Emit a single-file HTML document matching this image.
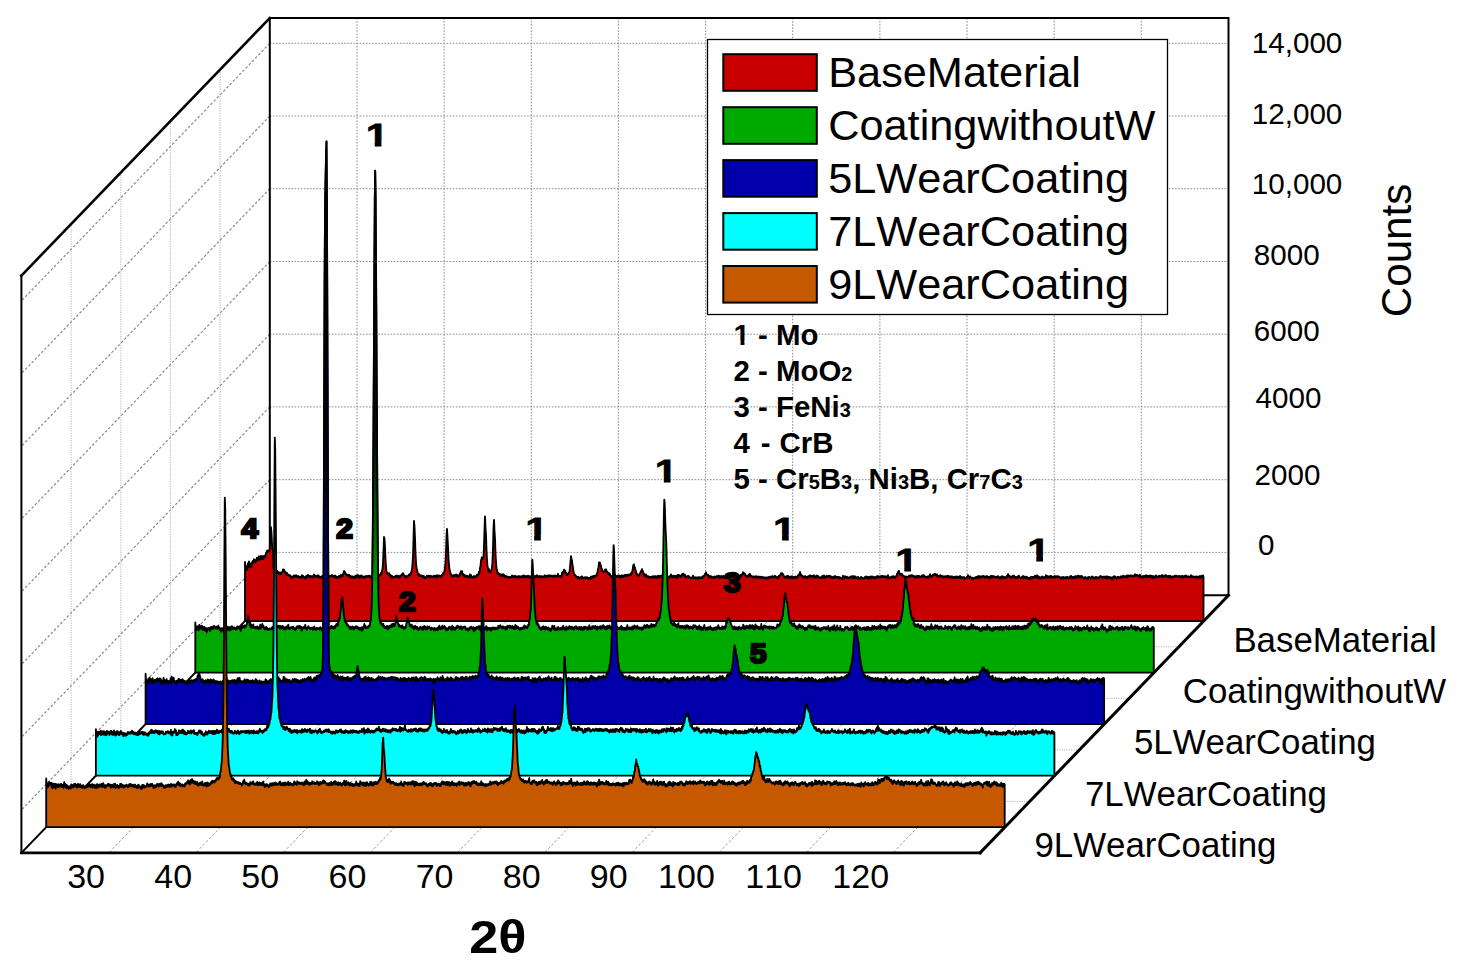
<!DOCTYPE html>
<html lang="en"><head><meta charset="utf-8"><title>XRD 3D waterfall</title>
<style>html,body{margin:0;padding:0;background:#fff;width:1459px;height:970px;overflow:hidden}svg{display:block}</style></head>
<body>
<svg width="1459" height="970" viewBox="0 0 1459 970" font-family="'Liberation Sans', sans-serif" style="font-kerning:none">
<rect width="1459" height="970" fill="#fff"/>
<g fill="none" stroke="#8c8c8c" stroke-width="1" stroke-dasharray="1.6 1.5">
<path d="M269.8 552.4H1228.5"/>
<path d="M269.8 479.7H1228.5"/>
<path d="M269.8 406.9H1228.5"/>
<path d="M269.8 334.2H1228.5"/>
<path d="M269.8 261.5H1228.5"/>
<path d="M269.8 188.7H1228.5"/>
<path d="M269.8 116.0H1228.5"/>
<path d="M269.8 43.3H1228.5"/>
<path d="M357.0 18.0V595.3"/>
<path d="M444.1 18.0V595.3"/>
<path d="M531.3 18.0V595.3"/>
<path d="M618.4 18.0V595.3"/>
<path d="M705.6 18.0V595.3"/>
<path d="M792.7 18.0V595.3"/>
<path d="M879.9 18.0V595.3"/>
<path d="M967.0 18.0V595.3"/>
<path d="M1054.2 18.0V595.3"/>
<path d="M1141.3 18.0V595.3"/>
</g>
<g fill="none" stroke="#868686" stroke-width="1.15" stroke-dasharray="2.6 2">
<path d="M269.8 552.4l-248.4 257.6"/>
<path d="M269.8 479.7l-248.4 257.6"/>
<path d="M269.8 406.9l-248.4 257.6"/>
<path d="M269.8 334.2l-248.4 257.6"/>
<path d="M269.8 261.5l-248.4 257.6"/>
<path d="M269.8 188.7l-248.4 257.6"/>
<path d="M269.8 116.0l-248.4 257.6"/>
<path d="M269.8 43.3l-248.4 257.6"/>
</g>
<g fill="none" stroke="#9c9c9c" stroke-width="1" stroke-dasharray="2.6 2">
<path d="M357.0 595.3l-248.4 257.6"/>
<path d="M444.1 595.3l-248.4 257.6"/>
<path d="M531.3 595.3l-248.4 257.6"/>
<path d="M618.4 595.3l-248.4 257.6"/>
<path d="M705.6 595.3l-248.4 257.6"/>
<path d="M792.7 595.3l-248.4 257.6"/>
<path d="M879.9 595.3l-248.4 257.6"/>
<path d="M967.0 595.3l-248.4 257.6"/>
<path d="M1054.2 595.3l-248.4 257.6"/>
<path d="M1141.3 595.3l-248.4 257.6"/>
</g>
<g fill="none" stroke="#b4b4b4" stroke-width="1" stroke-dasharray="1.2 1.2">
<path d="M220.1 69.5V646.8"/>
<path d="M220.1 646.8H1178.8"/>
<path d="M170.4 121.0V698.3"/>
<path d="M170.4 698.3H1129.1"/>
<path d="M120.8 172.6V749.9"/>
<path d="M120.8 749.9H1079.5"/>
<path d="M71.1 224.1V801.4"/>
<path d="M71.1 801.4H1029.8"/>
</g>
<g fill="none" stroke="#000" stroke-linejoin="miter" stroke-linecap="square">
<path stroke-width="2" d="M269.8 595.3V18.0H1228.5V595.3H269.8"/>
<path stroke-width="2.6" d="M269.8 18.0L21.4 275.6"/>
<path stroke-width="2" d="M21.4 275.6V852.9"/>
<path stroke-width="2" d="M21.4 852.9L269.8 595.3"/>
<path stroke-width="2.8" d="M21.4 852.9H980.1"/>
<path stroke-width="3" d="M980.1 852.9L1228.5 595.3"/>
</g>
<path fill="#c80000" stroke="#000" stroke-width="1.85" stroke-linejoin="round" d="M245 561.9l.5 5.9 .5-2 .5 4.4 .5-2.9 .5 1.8 .5-5.9 .5 1.3 .5-3.1 .5 5.5 .5-3.7 .5 4 .5-2 .5 1.5 .5-4.4 .5 .9 .5-2.5 .5 2 .5-3.5 .5 2.5 .5-1.8 .5 2.4 .5-1.4 .5-1 .5-2.2 .5 2.5 .5-2.4 .5 1.8 .5-3.3 .5 3.5 .5-3.2 .5 .9 .5-1.7 .5 3.4 .5-2.7 .5 2.7 .5-3.1 .5 2.8 .5-2.9 .5-.1 .5-.4 .5 1.2 .5-3.9 .5 .2 .5-2.3 .5 1.5 .5-1.8 .5 .9 .5-.6 .5 .9 .5-7.3 .5-6.6 .5-10.5 .5 6.2 .5 9.9 .5 6.2 .5 .6 .5 18 .5-.5 .5 3.5 .5-1.2 .5 2.5 .5-2 .5 2 .5-1.7 .5 1.2 .5 0 .5 1.8 .5-1.4 .5 2 .5-1.4 .5 1.5 .5-2 .5 1 .5-1.5 .5 .1 .5-2.5 .5 1.1 .5-1.1 .5 2.5 .5-.6 .5 1.6 .5-.4 .5 2.1 .5-1.8 .5 2.4 .5-1 .5 1.4 .5-.7 .5 .7 .5-.5 .5 1.3 .5-.3 .5 2.1 .5-1.2 .5 .5 .5-1.4 .5 .9 .5-1.6 .5 1.3 .5-.9 .5 .7 .5-1.5 .5 1.6 .5-.5 .5 1 .5-1.4 .5 1.8 .5-1 .5 .7 .5-.5 .5 .8 .5-.9 .5 .8 .5-2.3 .5 1.9 .5-1.2 .5 1.6 .5-.7 .5 1.5 .5-.5 .5 .7 .5-2.3 .5 1.4 .5-1.8 .5 .7 .5-1.6 .5 1.2 .5-.3 .5 1.4 .5-1.1 .5 .8 .5-.9 .5 1.1 .5-.6 .5 1 .5-1.7 .5 0 .5-1.3 .5 1.1 .5 0 .5 1.3 .5-.8 .5 .8 .5-1.2 .5 1.2 .5-1.7 .5 2.1 .5-1.1 .5 1.4 .5-.9 .5 .3 .5-.2 .5 .9 .5-1.6 .5 .4 .5-.4 .5 1.3 .5-2 .5 2 .5-.9 .5 .5 .5-.4 .5 .3 .5-.5 .5 1.7 .5-1.2 .5 .4 .5-1.3 .5 .5 .5-.8 .5 .8 .5-.7 .5-.1 .5-.7 .5 1.5 .5-.8 .5 1 .5-.6 .5 1.3 .5-1.9 .5 1.8 .5-.9 .5 1.5 .5-1 .5 .6 .5-.7 .5 .9 .5-1.8 .5 .8 .5-.7 .5 .7 .5-1.9 .5 1.6 .5-.8 .5 .7 .5-2.2 .5-.5 .5-2.7 .5 1.7 .5-.6 .5 1.7 .5 .1 .5 1.4 .5-.4 .5 .9 .5-.9 .5 1.1 .5-1 .5 1.3 .5-.6 .5 1.7 .5-1 .5 1.3 .5-1.2 .5 .4 .5-.4 .5 1.6 .5-.8 .5 .9 .5-2 .5 1.6 .5-2 .5 .9 .5-1.5 .5 1.9 .5-1.8 .5 1.7 .5-1.2 .5 2.3 .5-1.5 .5 1 .5-2.1 .5 .9 .5-.5 .5 1.2 .5-.4 .5 1.6 .5-1.1 .5 .5 .5-1.4 .5 1 .5-1.1 .5 .6 .5-.8 .5 .6 .5-.2 .5 .1 .5-.8 .5 1.3 .5-.8 .5 .9 .5-1.1 .5 1.2 .5-.7 .5 .8 .5-1.4 .5 .9 .5-1.3 .5 1.4 .5-2.2 .5 1.4 .5-1.1 .5 1.2 .5-1.3 .5 1.4 .5-1.5 .5 1.8 .5-.8 .5 .3 .5-1.4 .5 .2 .5-2 .5 .6 .5-2.7 .5-1.4 .5-6.8 .5-10.6 .5-14.9 .5 1.7 .5 8.1 .5 13 .5 7.2 .5 4.9 .5 .3 .5 1.7 .5-.3 .5 1.1 .5-1.6 .5 2.4 .5-1 .5 1.4 .5-.5 .5 2.2 .5-1.6 .5 1.2 .5-.5 .5 .9 .5-1 .5 .3 .5-.4 .5 .9 .5-1.8 .5 .7 .5-.7 .5 1.2 .5-.9 .5 1.2 .5-1.3 .5 1.9 .5-1.5 .5 .3 .5-1.3 .5 0 .5-1.2 .5 .5 .5-1.3 .5 1.2 .5 .5 .5 1.3 .5 .4 .5 1 .5-1.7 .5 1 .5-.8 .5 .4 .5-.7 .5 .4 .5-1.6 .5 .8 .5-1.5 .5 .6 .5-2.1 .5-.2 .5-3.6 .5-3.6 .5-9.2 .5-16.3 .5-18.6 .5 6 .5 11.2 .5 15.4 .5 9 .5 5.6 .5 1.6 .5 2.6 .5 .9 .5 1.6 .5-.7 .5 1.9 .5-.9 .5 1 .5-.8 .5 .5 .5-.1 .5 1.2 .5-1 .5 1.5 .5-1.2 .5 2.1 .5-1.2 .5 1.3 .5-1.3 .5 0 .5-1.5 .5 .6 .5-.5 .5 1 .5-.5 .5 1 .5-1.6 .5 1.4 .5-1.1 .5 .8 .5-.2 .5 .6 .5-1 .5 1 .5-1.3 .5 .8 .5-1 .5 1.6 .5-1 .5 1.3 .5-2.3 .5 1.1 .5-.5 .5 .7 .5-1.1 .5 .9 .5-.1 .5 .9 .5-1.5 .5 .9 .5-1.9 .5 .3 .5-1.6 .5 .7 .5-1.7 .5-.9 .5-4.3 .5-4.3 .5-10.7 .5-15.5 .5-7.7 .5 8.6 .5 9.2 .5 12.1 .5 6 .5 4.9 .5 1.2 .5 2.9 .5 .3 .5 1.6 .5-.2 .5 1.4 .5-1.5 .5 .7 .5-1.2 .5 1.2 .5-.9 .5 .4 .5-1.2 .5 1.9 .5-1.5 .5 1.8 .5-1.2 .5 1.2 .5-1.3 .5 .4 .5-2.4 .5 .5 .5-2.6 .5 .3 .5-.4 .5 3 .5-.3 .5 2 .5-1.1 .5 1.3 .5-.2 .5 1.1 .5-1.4 .5 1.1 .5-1 .5 1.4 .5-1 .5 1 .5-.6 .5 1.1 .5-3 .5 1.4 .5-.9 .5 2.5 .5-.5 .5 .9 .5-1.1 .5 .5 .5-1.3 .5 1.2 .5-.9 .5 .5 .5-.9 .5 1 .5-2.2 .5 .7 .5-1.2 .5 .5 .5-3 .5 .7 .5-4.4 .5-2.1 .5-5.2 .5-2 .5-1.4 .5 2 .5-1 .5-1.4 .5-10.4 .5-17 .5-13.1 .5 11.8 .5 7.1 .5 14.9 .5 9.8 .5 6.1 .5 2.2 .5 2.5 .5-1.6 .5 3 .5-1.4 .5 1.6 .5-1.9 .5-.3 .5-3.2 .5-5.3 .5-13.6 .5-19.9 .5-8.3 .5 11.5 .5 7.1 .5 15 .5 8.4 .5 6.7 .5 1.2 .5 3.5 .5-.6 .5 1.3 .5-.3 .5 1 .5-.6 .5 2 .5-1.4 .5 .6 .5-.7 .5 1.1 .5-1.6 .5 2.1 .5-1.4 .5 1.6 .5-.6 .5 1.5 .5-1.1 .5 1 .5-.9 .5 .8 .5-.2 .5 .9 .5-.7 .5 .4 .5-.6 .5 .5 .5-.6 .5 .4 .5-1.7 .5 .4 .5 .1 .5 1.5 .5-1.4 .5 .4 .5-.8 .5 1.5 .5-.4 .5 .7 .5-1.2 .5 .5 .5-.2 .5 1 .5-1.6 .5 1.5 .5-.6 .5 .5 .5-1.2 .5 1.2 .5-1.1 .5 1 .5-1.6 .5 1.3 .5-1.6 .5 2 .5-1.5 .5 1.5 .5-1 .5 .7 .5-1.1 .5 .7 .5-1 .5 1 .5-.4 .5 1.6 .5-1.6 .5 .4 .5-.3 .5 1.2 .5-1.3 .5 .7 .5-.9 .5 1.1 .5-.8 .5 .6 .5-1.1 .5 1.1 .5-.9 .5 .4 .5-1.4 .5 1.4 .5-.4 .5 1.4 .5-1.3 .5 1.1 .5-1.3 .5 .9 .5-.7 .5 .9 .5-.8 .5 1 .5-.9 .5 .7 .5-1 .5 1.2 .5-2 .5 1.7 .5-1.1 .5 .9 .5-1.2 .5 .4 .5-.4 .5 1.2 .5-1.5 .5 1.1 .5-.9 .5 .9 .5-.9 .5 1 .5-.7 .5 .8 .5-1 .5 1.5 .5-1.5 .5 .4 .5-.5 .5 1.1 .5-.7 .5 .8 .5-1 .5 .6 .5-2.5 .5 2.3 .5-.3 .5 .7 .5-.3 .5 .7 .5-1.4 .5 .9 .5-3.7 .5 1.5 .5-2.5 .5-.1 .5-1.9 .5 1.9 .5-1.1 .5 2.3 .5-.4 .5 2.4 .5-1.2 .5 1.3 .5-1.1 .5 .4 .5-1.9 .5-.5 .5-4.4 .5-5.9 .5-5.4 .5 3 .5 1.6 .5 4.3 .5 2.6 .5 4.4 .5 1.3 .5 1.5 .5-.1 .5 1 .5 .1 .5 1.5 .5-.3 .5 .9 .5-.9 .5 .4 .5-.2 .5 1.5 .5-.8 .5 .6 .5-1.6 .5 .9 .5-1.5 .5 1.7 .5 0 .5 .5 .5-1 .5 .5 .5-.9 .5 1.2 .5-.9 .5 .7 .5-.9 .5 1 .5-.5 .5 1.1 .5-.9 .5 .3 .5-.5 .5 1.2 .5-2.1 .5 1.1 .5-1.5 .5 1 .5-1.1 .5 1 .5-1.5 .5 1.1 .5-1.3 .5 .6 .5-.9 .5 0 .5-2.2 .5-.4 .5-3.5 .5-1.8 .5-4.9 .5-.1 .5 .3 .5 2.5 .5 .3 .5 3.8 .5-.5 .5 2.6 .5-.2 .5 1 .5-1.1 .5 .4 .5-1.7 .5 .3 .5-.9 .5 2 .5 .2 .5 1.4 .5-.3 .5 1.6 .5-1.1 .5 1.7 .5-.7 .5 2.1 .5-.3 .5 1.4 .5-.4 .5-.1 .5-1.1 .5 .6 .5-1.1 .5 1.4 .5-2.2 .5 2.4 .5-.7 .5 .8 .5-.7 .5 .7 .5-1 .5 .8 .5-1.2 .5 1.5 .5-1 .5 1.6 .5-1.6 .5 1.2 .5-1.9 .5 1.6 .5-.5 .5 .8 .5-1.7 .5 1.2 .5-1.8 .5 1.4 .5-1.2 .5 1 .5-1.2 .5 1.2 .5-1.2 .5 .5 .5-.7 .5 .4 .5-.7 .5 1.1 .5-2.2 .5 1.1 .5-2.4 .5-1.1 .5-4.5 .5-1.5 .5-.5 .5 3.7 .5-.5 .5 2.8 .5 .7 .5 3.2 .5-.4 .5 1.6 .5-.8 .5 1.2 .5-.9 .5 .1 .5-1.9 .5-.4 .5-1.6 .5-.6 .5-1.4 .5 1.8 .5 .6 .5 2.2 .5-.3 .5 2.7 .5-.4 .5 .7 .5-1.9 .5 2.1 .5-.6 .5 1.1 .5-1.1 .5 1.6 .5-.9 .5 .6 .5-.4 .5 1 .5-1.1 .5 .5 .5-.7 .5 .5 .5-.9 .5 1.5 .5-1.4 .5 1.4 .5-1.5 .5 1.3 .5-1.2 .5 1.6 .5-1.5 .5 .8 .5-1.5 .5 1.9 .5-1.5 .5 1.3 .5-1.5 .5 1.2 .5-1.4 .5 1 .5-1.2 .5 1.2 .5-1.8 .5 2.8 .5-.6 .5 1.4 .5-1 .5 .9 .5-1.6 .5 1.1 .5-1.4 .5 1.3 .5-1.1 .5 1.3 .5-1.4 .5 .8 .5-1.4 .5 .6 .5-2.1 .5 2.3 .5-1 .5 1.5 .5-1.5 .5 1.5 .5-1.4 .5 .9 .5-1 .5 1.7 .5-.7 .5 1.1 .5-2.5 .5 1.9 .5-2.3 .5 1.1 .5-1.1 .5 1.4 .5-.8 .5 1.4 .5-1 .5 .5 .5-2.4 .5 .4 .5-.9 .5 1.5 .5-.9 .5 2 .5-1.4 .5 2.6 .5-1 .5 .8 .5-.8 .5 .3 .5-.9 .5 1.2 .5-.8 .5 1.4 .5-.2 .5 .6 .5-.4 .5 .4 .5-.9 .5 .7 .5-2.1 .5 2.4 .5-.9 .5 .7 .5-.6 .5 1.4 .5-1.3 .5 1 .5-.9 .5 1 .5-1 .5 .7 .5-1.2 .5 1.2 .5-.8 .5 .7 .5-1 .5 .9 .5-.9 .5 1.1 .5-2 .5 .9 .5-1.6 .5 .1 .5-1.7 .5-.2 .5-1.4 .5 2.3 .5-.2 .5 .6 .5-.2 .5 1.8 .5-.8 .5 1.8 .5-1.5 .5 1.2 .5-1.2 .5 1.7 .5-.4 .5 .5 .5-1.1 .5 .9 .5-1 .5 1.1 .5-1.3 .5 1.1 .5-.9 .5 .6 .5-1.3 .5 .4 .5-.7 .5 .9 .5-1 .5 2.4 .5-.8 .5 .5 .5-1.7 .5 1.2 .5-1.1 .5 1.2 .5-.6 .5 .9 .5-1.8 .5 1.3 .5-.9 .5 .7 .5-2.5 .5 2.6 .5-1.3 .5 1.3 .5-.2 .5 .9 .5-2.4 .5 .7 .5-.7 .5 1.2 .5-.4 .5 1 .5-.5 .5 .5 .5-.4 .5 .2 .5-1 .5 1.4 .5-2.3 .5 1.9 .5-.3 .5 1 .5-.9 .5 .8 .5-.7 .5 .8 .5-1 .5 .8 .5-1.1 .5 0 .5-1.7 .5 1.2 .5-1.4 .5 0 .5-2.2 .5 1 .5-.3 .5 1.5 .5-.7 .5 1.5 .5 .3 .5 1.4 .5-.9 .5 .8 .5-1.3 .5 .8 .5-1.8 .5 1.6 .5-2.3 .5 2.8 .5-1.1 .5 1.4 .5-.6 .5 .9 .5-.7 .5 .8 .5-.8 .5 1.3 .5-1.4 .5 .4 .5-.6 .5 1.1 .5-.8 .5 1.2 .5-1.1 .5 1 .5-1.1 .5 1.1 .5-.6 .5 .8 .5-1.2 .5 .9 .5-.6 .5 1 .5-.7 .5 1 .5-.9 .5 1.2 .5-1.1 .5 1.1 .5-.9 .5 .4 .5-.6 .5 1.2 .5-1.5 .5 .9 .5-1.1 .5 .6 .5-.8 .5 1 .5-1.2 .5 .5 .5-.9 .5 1.3 .5-.9 .5 .8 .5-.8 .5 .5 .5-1.2 .5 1.4 .5-.6 .5 1 .5-.6 .5 1.5 .5-.8 .5 .1 .5-2 .5 .1 .5-1.1 .5-.1 .5-1.4 .5 .3 .5-.6 .5 1.6 .5-.5 .5 1.8 .5 0 .5 1.7 .5-1 .5 1.3 .5-1.2 .5 1.1 .5-1.8 .5 1.2 .5-1.4 .5 1.6 .5-.8 .5 1.6 .5-.9 .5 .5 .5-1.3 .5 1.4 .5-1.7 .5 1.8 .5-1 .5 1.7 .5-1.8 .5 .6 .5-.8 .5 1.1 .5-1.3 .5 1.3 .5-.3 .5 .3 .5-2.6 .5 .9 .5-1.7 .5-.1 .5-2.3 .5 2.5 .5-.1 .5 1.5 .5-.5 .5 1.3 .5-.2 .5 1 .5-1 .5 .4 .5-.8 .5 1.6 .5-.9 .5 1.1 .5-1.1 .5 1.3 .5-1.7 .5 .9 .5-1.4 .5 .6 .5-1.2 .5 1.1 .5-.5 .5 1.5 .5-1.5 .5 .6 .5-.9 .5 .7 .5-1 .5 2.4 .5-1.5 .5 1.1 .5-.6 .5 .7 .5-2 .5 1.1 .5-.5 .5 .9 .5 .3 .5 1.2 .5-1.1 .5 .8 .5-1 .5 1 .5-2 .5 1.7 .5-1.9 .5 1.7 .5-2.1 .5 2.3 .5-.8 .5 .7 .5-1.4 .5 .8 .5-1.3 .5 .9 .5-.4 .5 .5 .5-1.2 .5 .8 .5-.5 .5 1.3 .5-.8 .5 1.8 .5-.8 .5 .6 .5-1.3 .5 1.2 .5-1.1 .5 1.2 .5-2.1 .5 1.6 .5-.7 .5 .5 .5-.1 .5 .4 .5-.9 .5 1 .5-.7 .5 1.4 .5-1.1 .5 .7 .5-.3 .5 1 .5-.1 .5 .5 .5-3.3 .5 1.2 .5-.8 .5 1.7 .5-1.6 .5 1.6 .5-1.1 .5 1 .5-1.1 .5 .9 .5-.1 .5 .9 .5-1 .5 .7 .5-1.2 .5 .6 .5-1 .5 .6 .5-1 .5 2.1 .5-1.9 .5 1.6 .5-1.6 .5 1.5 .5-1.5 .5 1.6 .5-.7 .5 1 .5-1.1 .5 1.2 .5-1.5 .5 1.6 .5-.1 .5 .6 .5-1 .5 .2 .5-1.2 .5 1 .5-.4 .5 .8 .5-.3 .5 1.1 .5-.8 .5 0 .5-1.4 .5 .9 .5-1.4 .5 1.6 .5-.8 .5 1.1 .5-1.5 .5 1.3 .5-1.1 .5 2 .5-2.2 .5 1.6 .5-1.9 .5 1 .5-1.1 .5 1.4 .5-1 .5 1 .5-.8 .5 1.3 .5-1 .5 1.2 .5-1.7 .5 .4 .5-1 .5 1.2 .5-1.4 .5 1.3 .5-.4 .5 .7 .5-1.4 .5 1.1 .5-1.1 .5 .7 .5-1 .5 1.2 .5-1.1 .5 1 .5-.9 .5 1.1 .5-.6 .5 .6 .5-.9 .5 1.3 .5-.9 .5 .7 .5-2.2 .5 2.9 .5-.6 .5 1.1 .5-1.5 .5 .5 .5-.7 .5 .8 .5-1.3 .5 .9 .5-1 .5 1.2 .5-1.2 .5 1.5 .5-.9 .5 .7 .5-1.6 .5 .4 .5-2.6 .5-.2 .5-1.8 .5 .1 .5-1.1 .5 3 .5-.2 .5 1.1 .5-1.1 .5 .7 .5-.4 .5 1.8 .5-.5 .5 1.2 .5-.4 .5 1.3 .5-.7 .5 .8 .5-.9 .5 .6 .5-.2 .5 .7 .5-1.2 .5 .7 .5-1.4 .5 1.2 .5-1.2 .5 .9 .5-1.4 .5 .8 .5-.7 .5 .6 .5-.4 .5 1.3 .5-.5 .5 1.1 .5-1.3 .5 1.9 .5-1.1 .5 .3 .5-1.5 .5 .8 .5-.4 .5 1.4 .5-1.6 .5 1.1 .5-.8 .5 .9 .5-.6 .5 .4 .5-1.5 .5 1.2 .5-1.5 .5 1.5 .5-1.3 .5 .9 .5 .2 .5 1 .5-.5 .5 .8 .5-1.2 .5 1.2 .5-1.3 .5 1.5 .5-1.7 .5-.1 .5-2 .5 2.4 .5-.8 .5 1 .5-1.2 .5 .3 .5-1.1 .5 .6 .5-1.2 .5 .6 .5-.9 .5 1.4 .5-.6 .5 1.3 .5-1.5 .5 2.1 .5-.9 .5 1.4 .5-.6 .5 .1 .5-1.4 .5 1.1 .5-.6 .5 1 .5-.9 .5 1.4 .5-.8 .5 1.1 .5-.9 .5 .6 .5-1 .5 1.3 .5-1.1 .5 .6 .5-1 .5 .7 .5-.9 .5 1.8 .5-1.2 .5 1 .5-.8 .5 .5 .5-.8 .5 1.8 .5-1.6 .5 1.6 .5-1.2 .5 1.5 .5-1 .5 .6 .5-1.3 .5 1 .5-1 .5 1 .5-1.2 .5 1.3 .5-.8 .5 1.2 .5-1.3 .5 .7 .5-1.5 .5 2 .5-1.1 .5 1.2 .5-.8 .5 .9 .5-1 .5 1 .5-1.2 .5 1.6 .5-.7 .5 .8 .5-.8 .5 .1 .5-1.3 .5 .3 .5-1.9 .5 2.5 .5-.7 .5 .9 .5-1.5 .5 1.1 .5 .1 .5 .6 .5-.4 .5 1.7 .5-1.6 .5 1.1 .5-.7 .5 .1 .5-.9 .5 .6 .5-1 .5 1.2 .5-1.6 .5 1.2 .5-1.5 .5 1 .5-1.4 .5 2.3 .5-1.1 .5 .8 .5-1.7 .5 1.1 .5-.9 .5 .3 .5-.8 .5 .8 .5-.6 .5 1.7 .5-.7 .5 .3 .5-1.1 .5 1.1 .5-1.4 .5 1.6 .5-.9 .5 1.1 .5-.7 .5 1.2 .5-1.6 .5 .9 .5-1.8 .5 1.5 .5-1.4 .5 1.4 .5-1.2 .5 1.2 .5-1.2 .5 .9 .5-.2 .5 .6 .5-.7 .5 .7 .5-.5 .5 .3 .5-1.2 .5 1.4 .5-.4 .5 1.3 .5-.9 .5 1.4 .5-2.2 .5 1 .5-1.4 .5 1.5 .5-1.2 .5 1.4 .5-1 .5 .7 .5-.3 .5 1.2 .5-1.3 .5 .2 .5-1.7 .5 .6 .5-2.2 .5 1.9 .5-.6 .5 1.6 .5-.7 .5 1.4 .5-1.2 .5 1.2 .5-1.1 .5 .9 .5-1.9 .5 1 .5-1 .5 1.2 .5 0 .5 1.4 .5-1.1 .5 .9 .5-1 .5 .6 .5-1.5 .5 1.3 .5-1.7 .5 1.5 .5-.1 .5 .9 .5-.4 .5 .8 .5-1.4 .5 1.1 .5-2.1 .5 2 .5-1.3 .5 1.4 .5-1.5 .5 1.2 .5-1.2 .5 .9 .5-.5 .5 1.8 .5-1.1 .5 1.2 .5-.9 .5 .9 .5-1.3 .5 1.2 .5-2 .5 2 .5-1.9 .5 .3 .5-.2 .5 .9 .5-1.2 .5 .8 .5-1.7 .5 1.3 .5-1.5 .5 1.5 .5-1.7 .5 2.6 .5-1.9 .5 2.3 .5-1.7 .5 1 .5-.3 .5 1.1 .5-1.3 .5 1.1 .5-1.8 .5 1.3 .5-.5 .5 .5 .5-.9 .5 1.1 .5-1.1 .5 .7 .5-2.4 .5 2.1 .5-1.4 .5 1.9 .5-1.3 .5 .5 .5-.7 .5 1.1 .5-1.2 .5 1.4 .5-1.7 .5 1.2 .5-.5 .5 1.3 .5-.9 .5 .4 .5-1 .5 1 .5-1.4 .5 1.4 .5-1.3 .5 .9 .5-.7 .5 1 .5-1 .5 .8 .5-.7 .5 .9 .5-.1 .5 1.2 .5-1 .5 1.2 .5-1.3 .5 .8 .5-1.2 .5 1.6 .5-1 .5 .8 .5-1 .5 .9 .5-1.1 .5 .9 .5-1.2 .5 1 .5-.6 .5 1.2 .5-.8 .5 .8 .5-1.9 .5 .6 .5-1.2 .5 2 .5-1.1 .5 1.3 .5-1.1 .5 .9 .5-1.1 .5 1.4 .5-1.7 .5 .7 .5-1.2 .5 1.7 .5-1 .5 .4 .5-1.5 .5 1.1 .5-.7 .5 1.8 .5-1.5 .5 1.1 .5-1.5 .5 1.3 .5-1.1 .5 1.6 .5-.5 .5 .9 .5-.2 .5 1 .5-1.9 .5 .8 .5-.4 .5 1.2 .5-.5 .5 .4 .5-1.4 .5 1.2 .5-1.5 .5 1 .5-.4 .5 1.2 .5-1.1 .5 .3 .5-1.4 .5 1.2 .5-.6 .5 1.3 .5-.4 .5 .8 .5-1.6 .5 .9 .5-1.1 .5 1.5 .5-1.1 .5 .5 .5-.3 .5 1 .5-1.3 .5 .3 .5-1.2 .5 0 .5-.2 .5 .9 .5-.3 .5 1.4 .5-1.1 .5 .3 .5-.8 .5 1 .5-.9 .5 1.3 .5-1.1 .5 1.2 .5-1.7 .5 2.2 .5-1.7 .5 1.6 .5-1.4 .5 .5 .5-.6 .5 .9 .5-.5 .5 1.9 .5-1 .5 1 .5-2.2 .5 .4 .5-1.3 .5 .9 .5-.6 .5 1.6 .5-.4 .5 1 .5-1.5 .5 .6 .5-.9 .5 1.2 .5-1 .5 .5 .5-.1 .5 .7 .5-1.8 .5 1 .5-.8 .5 .6 .5-1.4 .5 1.5 .5-.8 .5 .3 .5-.6 .5 .9 .5-.9 .5 1.2 .5-1.8 .5 1.6 .5-1.6 .5 .5 .5-.4 .5 .9 .5-.6 .5 .1 .5-.7 .5 .6 .5-.3 .5 .8 .5-.9 .5 1 .5-.7 .5 .7 .5-2.3 .5 1.4 .5-.7 .5 1 .5-1 .5 .9 .5-.5 .5 1.4 .5-.8 .5 1 .5-2.1 .5 2 .5-.8 .5 1.4 .5-.5 .5 1.4 .5-2.3 .5 .9 .5-1 .5 .9 .5-.9 .5 1.3 .5-2.1 .5 2.2 .5-.6 .5 .2 .5-1.3 .5 1.1 .5-1 .5 1.5 .5-1.5 .5 1.3 .5-1.3 .5 1.9 .5-1.5 .5 2.3 .5-2.4 .5 2.2 .5-1.1 .5 .9 .5-1.7 .5 .6 .5-1.5 .5 1.3 .5 .2 .5 .4 .5-.9 .5 .3 .5-1.1 .5 1.6 .5-1.3 .5 .7 .5-.6 .5 .6 .5-1.6 .5 2.2 .5-1.2 .5 .8 .5-1.1 .5 1.2 .5-1.5 .5 .5 .5-.8 .5 1.4 .5-.5 .5 1.2 .5-.9 .5 .9 .5-1.5 .5 1.3 .5-1.1 .5 1.7 .5-1.2 .5 1.3 .5-.9 .5 1 .5-1.5 .5 1.1 .5-.9 .5 .4 .5-1.3 .5 .8 .5-.8 .5 .7 .5-.4 .5 1.2 .5-.6 .5 0 .5-.8 .5 .7 .5-.1 .5 1.2 .5-1.1 .5 .8 .5-1.4 .5 1.1 .5-.9 .5 1.6 .5-1 .5 .4 .5-1.3 .5 .5 .5-.7 .5 1.4 .5-.6 .5 1 .5-.9 .5 .7 .5-.7 .5 .7 .5-.4 .5 .4 .5-1.9 .5 1.8 .5-.8 .5 .8 .5-.7 .5 .8 .5-.3 .5 .9 .5-.9 .5 .8 .5-1.2 .5 .7 .5-.5 .5 1.1 .5-1 .5 .5 .5-.6 .5 1.2 .5-1.8 .5 2 .5-1.5 .5 .4 .5-1.2 .5 1.2 .5-1.5 .5 1.5V621.1H245z"/>
<path fill="#00a900" stroke="#000" stroke-width="1.85" stroke-linejoin="round" d="M195.3 622.5l.5 8.2 .5-3.9 .5 1.2 .5-1.7 .5 3.4 .5-3.2 .5 3.9 .5-5.5 .5 2.7 .5-1.4 .5 2.7 .5-3.2 .5 2.5 .5-2 .5 3.9 .5-2.9 .5 2.1 .5-2.3 .5 3.5 .5-2.7 .5 3.3 .5-3 .5 4.4 .5-4.2 .5 1.4 .5-1.6 .5 1.2 .5-1.4 .5 3.3 .5-3.8 .5 2.2 .5-2.7 .5 2.1 .5-1.6 .5 1.7 .5-2.8 .5 1.9 .5-2.3 .5 1.7 .5-.7 .5 2 .5-2.3 .5 2 .5-1.6 .5 1.6 .5-2.9 .5 2.5 .5-.6 .5 2.1 .5-1 .5 3.2 .5-3.6 .5 2.1 .5-2.1 .5 2.4 .5-2.5 .5 2 .5-2.2 .5 1 .5-2.8 .5 3 .5-2.6 .5 2.8 .5-2.8 .5 3.4 .5-2.8 .5 1.6 .5-1.7 .5 3.4 .5-3.4 .5 2 .5-2.8 .5 3.2 .5-3 .5 2.6 .5-1.6 .5 1.1 .5-1.2 .5 1.5 .5-.7 .5 1.5 .5-1.9 .5 1.5 .5-3 .5 1.8 .5-1.5 .5 .8 .5-.4 .5 2.3 .5-1.9 .5 3.6 .5-4.7 .5 1.2 .5-2.2 .5 2.5 .5-1.4 .5 .7 .5-1.6 .5 2.2 .5-2.2 .5 1.1 .5-1.7 .5-.5 .5-4.1 .5-2.1 .5-2.3 .5 6 .5-.5 .5 4.4 .5-2.9 .5 4.7 .5-2.9 .5 2.6 .5-1 .5 1.7 .5-3.6 .5 2.7 .5-.2 .5 1 .5-.7 .5 1.2 .5-1.6 .5 1.3 .5-1.6 .5 2.2 .5-1.5 .5 2 .5-1.9 .5 1 .5-3.7 .5 4.1 .5-2.8 .5 1.5 .5-3.5 .5 2.5 .5-.9 .5 2.5 .5-.5 .5 2 .5-2.1 .5 1.7 .5-2.2 .5 2.6 .5-1.5 .5 1.7 .5-.6 .5 1 .5-1.5 .5 .9 .5-1 .5 .7 .5-1.1 .5 1.2 .5-2.3 .5 2.1 .5-1.8 .5 2.1 .5-1.2 .5 1.6 .5-2.3 .5 2.1 .5-1.7 .5 .5 .5-2.3 .5 1.1 .5-1.5 .5 1.6 .5-1.4 .5 2.9 .5-2.9 .5 1.4 .5-.2 .5 1.5 .5-2.7 .5 1.7 .5-1 .5 2.8 .5-1.9 .5 2.1 .5-2.5 .5 2.3 .5-2.6 .5 1.7 .5-2.3 .5 1.8 .5-3.4 .5 4.2 .5-.7 .5 1.1 .5-1.7 .5 .6 .5-.9 .5 .3 .5-.5 .5 1.9 .5-2.3 .5 2.4 .5-.9 .5 2.1 .5-1.8 .5 1.3 .5-2.6 .5 .7 .5-1.7 .5 1.7 .5-1.6 .5 1.9 .5-2.2 .5 1.9 .5-1.5 .5 2.5 .5-1.9 .5 3.8 .5-2.5 .5 .6 .5-1.7 .5 1 .5-1.7 .5 1.4 .5-3 .5 4.2 .5-1.2 .5 2.1 .5-2.3 .5 .7 .5-2.1 .5 1.9 .5-.8 .5 1.3 .5-.7 .5 1.1 .5-1.3 .5 1.1 .5-1.1 .5 2 .5-2 .5 1.6 .5-2.8 .5 3.2 .5-1.2 .5 1.5 .5-2 .5 .7 .5-.8 .5 1.3 .5-.8 .5 .6 .5-.7 .5 1.2 .5-2.3 .5 2.1 .5-1.5 .5 2.9 .5-1.8 .5 .5 .5-1.9 .5 .7 .5-1.2 .5 1.5 .5-.7 .5 1.3 .5-3 .5 2.4 .5-.7 .5 1.2 .5-2 .5 2.3 .5-1.8 .5 1.3 .5-1.6 .5 .9 .5-2.3 .5 2.2 .5-1.6 .5 1.6 .5-1.1 .5 1.8 .5-2.3 .5 1.8 .5-2.4 .5 .7 .5-2.2 .5 1.8 .5-2.6 .5 1.8 .5-4.5 .5 .9 .5-3.7 .5 .5 .5-5 .5-3.7 .5-8.1 .5-2.8 .5-2 .5 6.2 .5 4.8 .5 7.2 .5 2.3 .5 4 .5 0 .5 1.6 .5-1.1 .5 3.5 .5-1.2 .5 1.7 .5-.7 .5 1.5 .5 .3 .5 2 .5-2.3 .5 2.7 .5-2 .5 1.2 .5-2.1 .5 2.1 .5-1.5 .5 2.5 .5-1.8 .5 .6 .5-1.9 .5 1 .5-1.2 .5 2 .5-1.6 .5 1.2 .5-.4 .5 2.2 .5-2.1 .5 1.7 .5-1.2 .5 1.5 .5-2.1 .5 3.6 .5-4 .5 2.7 .5-2.9 .5 .8 .5-3.7 .5 3.6 .5-1.9 .5 2.3 .5-1 .5 .9 .5-.9 .5 1.1 .5-2.1 .5 .6 .5-1.3 .5 .7 .5-4.6 .5-1 .5-7.1 .5-10 .5-27.8 .5-43.2 .5-71.9 .5-88.3 .5-94.9 .5-78.5 .4-28 .4 25.3 .7 112.5 .5 96.4 .5 83.9 .5 62.8 .5 36.6 .5 20.4 .5 7.8 .5 4 .5 1.7 .5 1.9 .5-.9 .5 1.1 .5-.2 .5 2 .5-2 .5 3.1 .5-1.2 .5 2.1 .5-.9 .5 .9 .5-1.7 .5 2.3 .5-2.6 .5 3.3 .5-2.5 .5 1.8 .5-2.8 .5 2.3 .5-2 .5 .6 .5-2.2 .5 2.6 .5-3 .5 2.1 .5-2.5 .5 2.7 .5-2 .5 1.4 .5-2.9 .5-.9 .5-5.7 .5 3.7 .5-.2 .5 3.6 .5 0 .5 2.9 .5-1.4 .5 1.6 .5-.4 .5 .9 .5-.8 .5 1.6 .5-2.5 .5 2.2 .5-.6 .5 1.6 .5-1.2 .5 1.5 .5-1.5 .5 0 .5-3.7 .5-.6 .5-5.2 .5 3.6 .5-3 .5 3.2 .5 1.2 .5 3 .5-1.1 .5 1.8 .5-1.9 .5 2.6 .5-1.9 .5 2.6 .5 0 .5 1.2 .5-2.6 .5 2.2 .5-2.7 .5 1.7 .5-.8 .5 2 .5-1.7 .5 2.7 .5-1.1 .5 1.2 .5-2.1 .5 .8 .5-2 .5 1.5 .5-.4 .5 1.5 .5-2.1 .5 2.8 .5-3.3 .5 2.4 .5-3.1 .5 1.4 .5-.6 .5 2.9 .5-1.7 .5 1.1 .5-2.7 .5 2.4 .5-2.1 .5 .4 .5-.5 .5 1.6 .5 .3 .5 1.6 .5-2.4 .5 1.7 .5-1.2 .5 .3 .5-.1 .5 2 .5-2.4 .5 1 .5-.6 .5 1.8 .5-1.8 .5 1.7 .5-1.8 .5 1.9 .5-3.1 .5 1.6 .5-3 .5 3 .5-1.3 .5 1.8 .5-2.1 .5 1.6 .5-3 .5 2.8 .5-1.5 .5 .7 .5-1.8 .5 1.6 .5-.5 .5 2.8 .5-1.4 .5 2 .5-1.8 .5 1.5 .5-2.3 .5 .6 .5-1.7 .5 1.8 .5-1.2 .5 2 .5-2.3 .5 2.9 .5-4.2 .5 3.5 .5-2.4 .5 2.7 .5-1.2 .5 1.8 .5-2.3 .5 .8 .5-1.8 .5 1.2 .5-2.4 .5 1.9 .5-1.3 .5 1.3 .5-.6 .5 2 .5-2.5 .5 2.3 .5-2.3 .5 3.1 .5-1.6 .5 .5 .5-1.5 .5 .2 .5-.6 .5 1.1 .5-.8 .5 3 .5-1.4 .5 .9 .5-.9 .5 1.8 .5-1.1 .5 1.4 .5-2.8 .5 .3 .5-.7 .5 1.3 .5-1.9 .5 1.8 .5-.9 .5 1.7 .5-2.1 .5 4.4 .5-3.6 .5 2.4 .5-2.8 .5 2.1 .5-2.5 .5 1.3 .5-1.5 .5 1.5 .5-2.1 .5 2.4 .5-2.7 .5 3.4 .5-3.1 .5 4.2 .5-4 .5 3.4 .5-1.9 .5 1.7 .5-3.5 .5 4.1 .5-2.2 .5 1.4 .5-1.8 .5 .7 .5-2.3 .5 4.3 .5-3 .5 2.1 .5-1.6 .5 .7 .5-.9 .5 1.9 .5-1.5 .5 2.7 .5-2.9 .5 1.9 .5-2.4 .5 1.3 .5-1.1 .5 1.4 .5-1.3 .5 1.5 .5-1.6 .5 1.6 .5-1.2 .5 1 .5-1.6 .5 1.1 .5-2.6 .5 2 .5-1.4 .5 .3 .5-1.7 .5 1.7 .5 0 .5 1.5 .5-1.7 .5 1.7 .5-1.9 .5 1.3 .5-.5 .5 1.3 .5-1.7 .5 2.8 .5-2.3 .5 1.6 .5-3.2 .5 1.3 .5-1.1 .5 1.4 .5-1.8 .5 2.1 .5-1.7 .5 1.2 .5 .1 .5 1.1 .5-2.5 .5 1.6 .5-.9 .5 2.5 .5-1 .5 .9 .5-4 .5 3.8 .5-2.8 .5 1.9 .5-1.5 .5 1.3 .5-.6 .5 1.9 .5-.5 .5 1.3 .5-1.9 .5 1.7 .5-1.3 .5 .7 .5-1.5 .5 1.2 .5-1.3 .5 1.2 .5-3.1 .5 1.8 .5-1.3 .5 1.5 .5-.9 .5 1.7 .5-1.9 .5 .7 .5-2.7 .5 .8 .5-4.6 .5-1.4 .5-6.6 .5-3 .5-12.8 .6-25.5 .4-11.7 .4 4.7 .6 12.7 .5 9.8 .5 11 .5 12.1 .5 5.1 .5 5 .5 1.4 .5 2.8 .5-1.6 .5 2.4 .5-1 .5 3.2 .5-.9 .5 2.5 .5-.3 .5 1.4 .5-1.9 .5 1.3 .5-2.3 .5 1.4 .5-2.1 .5 2.8 .5-.9 .5 1.5 .5-2.9 .5 1.9 .5-1.6 .5 2 .5-1.1 .5 1.6 .5-2.1 .5 1.3 .5-.5 .5 2.4 .5-1.7 .5 2 .5-2.8 .5 .6 .5-3 .5 2.2 .5-1.3 .5 2.7 .5-3.6 .5 4.3 .5-1.7 .5 1.5 .5-.8 .5 1.1 .5-2.7 .5 1.9 .5-2.2 .5 2 .5-.9 .5 1.3 .5-1.6 .5 1.3 .5-.4 .5 .9 .5-2.9 .5 2.2 .5-3.3 .5 3 .5-1 .5 2 .5-.6 .5 .9 .5-3.6 .5 3.1 .5-1.8 .5 1.1 .5-1.8 .5 1.6 .5-2.5 .5 2.5 .5-1.9 .5 2.1 .5-2.2 .5 1.8 .5-1.4 .5 1.8 .5-1.2 .5 2.1 .5-2.7 .5 1.4 .5-2 .5 2.1 .5-2.1 .5 2.3 .5-1.5 .5 2.1 .5-1.3 .5 1.2 .5-2.5 .5 1.6 .5-.8 .5 2.2 .5-3 .5 2.7 .5-1.3 .5 1.7 .5-2.6 .5 2.2 .5-2.8 .5 2.3 .5-2.2 .5 1.2 .5-.8 .5 1.5 .5-1.4 .5 2.4 .5-1.6 .5 1.2 .5-4 .5 3.6 .5-1.8 .5 2.2 .5-1.8 .5 1.5 .5-2.7 .5 1.7 .5-1.9 .5 1.5 .5-1.2 .5 1.9 .5-2.3 .5 2.2 .5-.7 .5 2.4 .5-3.5 .5 2.4 .5-1.4 .5 1.2 .5-1.9 .5 1 .5-1.6 .5 3 .5-2 .5 1.6 .5-2.9 .5 1.5 .5-2.2 .5 2.6 .5-1.4 .5 2.6 .5-2 .5 2.5 .5-2.8 .5 2.6 .5-3.4 .5 2.4 .5-2 .5 2 .5-2.7 .5 2.4 .5-1.6 .5 2.7 .5-2 .5 2 .5-1.5 .5 1.7 .5-1.7 .5 1.9 .5-2.9 .5 2.1 .5-1.8 .5 1.3 .5-1.7 .5 2.1 .5-1.9 .5 1.6 .5-.3 .5 1.1 .5-1 .5 1 .5-1.9 .5 2.3 .5-3.4 .5 3.4 .5-2.2 .5 2.1 .5-1.1 .5 1.5 .5-1.9 .5 1.4 .5-1.1 .5 2.1 .5-2.8 .5 1.6 .5-3.8 .5 3.6 .5-.4 .5 .9 .5-1.8 .5 1.4 .5-1.5 .5 2.2 .5-.7 .5 .1 .5-2.5 .5 3.3 .5-1.5 .5 .2 .5-3 .5 1.7 .5-.9 .5 2.1 .5-1.1 .5 1.2 .5-2.9 .5 2.9 .5-.9 .5 1.3 .5-1.6 .5 1.6 .5-1.2 .5 .8 .5-1.1 .5 2.6 .5-1.9 .5 1.3 .5-2.4 .5 1 .5-2.9 .5 2.5 .5-1.5 .5 2 .5-2.9 .5 1.1 .5-1.5 .5 2.4 .5-.4 .5 1.2 .5-2.3 .5 1.7 .5-1.8 .5 1.3 .5-3 .5 3.2 .5-2.1 .5 1 .5-1.3 .5 1.9 .5-1.6 .5 1.4 .5-1.2 .5 .3 .5-2.5 .5 .1 .5-2.5 .5-.3 .5-1.9 .5 2 .5-2.1 .5-.3 .5-5.1 .5-1.8 .5-5.9 .5-4.6 .5-12.9 .5-12.8 .5-26 .6-35.3 .4-14 .4 4.3 .6 18.6 .5 11.2 .5 9.9 .5 19.4 .5 17 .5 14.7 .5 7.4 .5 7.8 .5 1.4 .5 6.1 .5-.2 .5 5.7 .5-.8 .5 1.7 .5-.6 .5 2 .5-1.8 .5 1.7 .5-2.4 .5 3 .5-1.5 .5 1.8 .5-1.2 .5 2.9 .5-2.2 .5 .9 .5-3.1 .5 3.6 .5-.3 .5 1.3 .5-1.9 .5 1.8 .5-1.7 .5 1.3 .5-1.5 .5 1.8 .5-.5 .5 1.2 .5-2.6 .5 2.8 .5-1.5 .5 1.4 .5-3.3 .5 1.9 .5-1.6 .5 2.1 .5-1.6 .5 2.6 .5-1.6 .5 1.1 .5-1.7 .5 1.4 .5-1.1 .5 1.6 .5-.8 .5 1.3 .5-3.7 .5 2.4 .5-2.1 .5 1.4 .5-1.4 .5 1.7 .5-.5 .5 2.4 .5-2.3 .5 2.5 .5-2 .5 1.2 .5-2.9 .5 3.3 .5-1.9 .5 3 .5-2.8 .5 2.7 .5-.9 .5 1.1 .5-3 .5 .8 .5-2.9 .5 3.3 .5-.2 .5 2.3 .5-2.3 .5 1.2 .5-1.8 .5 2.1 .5-2.2 .5 2.1 .5-1.5 .5 .5 .5-2.1 .5 2.6 .5-1.3 .5 2.2 .5-1.4 .5 2 .5-2.2 .5 1.6 .5-2.1 .5 .8 .5-1.1 .5 2.3 .5-2.1 .5 1.6 .5-2.5 .5 .9 .5-2.5 .5 3.1 .5-.8 .5 1.9 .5-1.3 .5 1 .5-1.2 .5 1.1 .5-2.5 .5 2.7 .5-1.9 .5 .9 .5-1.7 .5 2.5 .5-2.6 .5 1.1 .5-6.3 .5 2 .5-3.6 .5 .5 .5-2.3 .5 1.9 .5-.5 .5 2.2 .5-.7 .5 3.8 .5-.1 .5 2.1 .5 0 .5 2.4 .5-1.6 .5 1.8 .5-2.5 .5 2.6 .5-1.6 .5 1.8 .5-2 .5 1.5 .5-1.3 .5 2.2 .5-2.4 .5 .9 .5-1.5 .5 1.8 .5-.6 .5 1.7 .5-1.9 .5 .8 .5-1.6 .5 .7 .5-3 .5 4.3 .5-2.7 .5 3 .5-2 .5 1.4 .5-2.8 .5 2.1 .5-1.8 .5 1.7 .5-1.5 .5 2.2 .5-3 .5 2.4 .5-2.8 .5 3.2 .5-2.1 .5 1.6 .5-2.6 .5 3.2 .5-2.4 .5 3.3 .5-2.6 .5 2.8 .5-5 .5 3.1 .5-2.3 .5 2.8 .5-1.6 .5 1.8 .5-1.7 .5 2.6 .5-1.5 .5 1.4 .5-2.5 .5 1.6 .5-4.2 .5 4.6 .5-.8 .5 2.2 .5-3.3 .5 1.2 .5-2.5 .5 1.5 .5-.9 .5 1.6 .5-1.2 .5 1.4 .5-1.1 .5 .5 .5-.5 .5 1.4 .5-1.6 .5 2.4 .5-2.2 .5 1.7 .5-1.7 .5 1.4 .5-1.1 .5 1.6 .5-1.7 .5 1.9 .5-1.2 .5 .7 .5-.7 .5 .7 .5-.7 .5 0 .5-3.2 .5 2 .5-1.6 .5 1.4 .5-1.7 .5 .5 .5-3.1 .5-.1 .5-2.8 .5 .9 .5-3.1 .5-1 .5-5.8 .5-3.3 .5-8.4 .5-2.7 .5-2.5 .5 4.6 .5 .7 .5 4.3 .5-.1 .5 5.4 .5 3.3 .5 4.8 .5 2.1 .5 4.3 .5-1.2 .5 1.9 .5-.9 .5 2.4 .5-.7 .5 2 .5-2.3 .5 2.2 .5-2.6 .5 3.3 .5-.9 .5 1.8 .5-1.2 .5 3 .5-1.6 .5 .7 .5-2.8 .5 1.9 .5-3.1 .5 2.6 .5-1.7 .5 2.2 .5-.2 .5 .7 .5-2 .5 1.4 .5-.6 .5 1.6 .5-.7 .5 2.6 .5-2.7 .5 1.8 .5-.9 .5 1.2 .5-2.6 .5 .5 .5-2.1 .5 1.5 .5-1.8 .5 2.6 .5-2.1 .5 1.9 .5-.9 .5 1.4 .5-1.8 .5 1.5 .5-1.4 .5 1.9 .5-1 .5 2.6 .5-4.2 .5 3.9 .5-2.3 .5 2.1 .5-1.6 .5 1.6 .5-2.3 .5 2.3 .5-1 .5 2.2 .5-1.1 .5 1 .5-2.7 .5 1.9 .5-1.1 .5 .2 .5-1.6 .5 1.4 .5-1.4 .5 .7 .5-.5 .5 1.6 .5-1.9 .5 2.2 .5-1.5 .5 1.2 .5-3 .5 3.7 .5-1.2 .5 2.5 .5-3.2 .5 1.9 .5-2.3 .5 1.1 .5-2 .5 3.2 .5-1.1 .5 1.1 .5-4.6 .5 3.7 .5-.6 .5 2.7 .5-3.8 .5 1.6 .5-3.3 .5 4.2 .5-1.6 .5 1.4 .5-.6 .5 1 .5-3.8 .5 2.6 .5 0 .5 1.9 .5-1.6 .5 1.5 .5-1.1 .5 1.6 .5-1.8 .5 0 .5-2.2 .5 1.2 .5-.6 .5 .5 .5-1.2 .5 2 .5-.8 .5 2 .5-1.3 .5 1.3 .5-1.9 .5 1.6 .5-2.6 .5 2 .5-2.1 .5 2.9 .5-2.8 .5 3 .5-2.9 .5 2.4 .5-3.8 .5 2.3 .5-2.4 .5 3.1 .5-2 .5 .9 .5-1.6 .5 1.8 .5 .1 .5 1.6 .5-2.3 .5 2.7 .5-1.3 .5 .9 .5-1.4 .5 .5 .5-.9 .5 1.4 .5-1.9 .5 2.6 .5-1.6 .5 1.8 .5-2.8 .5 2.8 .5-3.1 .5 1.2 .5-1.4 .5 2.9 .5-1.7 .5 1.1 .5-1.2 .5 2.4 .5-2.6 .5 2.1 .5-3.8 .5 2.9 .5-1.4 .5 1 .5-2.6 .5 3.2 .5-2.2 .5 1.5 .5-1.5 .5 2.2 .5-1.6 .5 1.1 .5-2.4 .5 2.3 .5-.4 .5 .8 .5-4.4 .5 4.4 .5-2.9 .5 1.6 .5-1.1 .5 1.9 .5-1.7 .5 1.2 .5-1.2 .5 2 .5-1.8 .5 2.6 .5-2.1 .5 3.2 .5-3.7 .5 1.2 .5-2.5 .5 1.6 .5-2.1 .5 2.3 .5-2.5 .5 3.5 .5-2.3 .5 1.3 .5-2.2 .5 2.5 .5-.9 .5 1 .5-2.7 .5 1.4 .5-1.3 .5 2.4 .5-2.3 .5 1.8 .5-3.6 .5 1.7 .5-2.9 .5 2 .5-1.8 .5 .7 .5-3 .5 1.5 .5-4.7 .5-.8 .5-3.7 .5-3.4 .5-6.6 .5-4.7 .5-8.7 .5-2.4 .5-7.9 .5 1.8 .5 1.5 .5 6 .5 1.7 .5 3.8 .5-.6 .5 7 .5 2.2 .5 6 .5 2 .5 4.4 .5 .5 .5 3.7 .5-1.3 .5 2.7 .5-2.3 .5 6.2 .5-1.1 .5 3.2 .5-1.7 .5 2 .5-1.4 .5 1.4 .5-2.2 .5 1.2 .5-1.3 .5 2.5 .5-1.1 .5 2.4 .5-2.4 .5 1.9 .5-2.9 .5 3.3 .5-1.1 .5 1.2 .5-1.3 .5 2.6 .5-1.3 .5 2.2 .5-1.4 .5 1.4 .5-3.8 .5 2.4 .5-2.2 .5 2 .5-2 .5 2.4 .5-2.3 .5 2.9 .5-2.5 .5 .6 .5-3.6 .5 4.7 .5-2.4 .5 2.3 .5-1.2 .5 1.2 .5-2.1 .5 1.7 .5-3.2 .5 2.5 .5-1 .5 1.1 .5-2.2 .5 2.7 .5-.9 .5 2.2 .5-2.7 .5 1.5 .5-1.5 .5 1.6 .5-2 .5 2.2 .5-.7 .5 .9 .5 0 .5 .3 .5-1.2 .5 .8 .5-3 .5 2.5 .5-1.2 .5 1.3 .5-.5 .5 1.6 .5-2.9 .5 1.3 .5-1.2 .5 1.2 .5-1.1 .5 1.9 .5-.9 .5 2.6 .5-2.8 .5 .3 .5-1.6 .5 .7 .5-1.7 .5 2.2 .5-2 .5 2.7 .5-.6 .5 1.8 .5-.9 .5 .5 .5-2.5 .5 1.2 .5-.8 .5 2.2 .5-1.3 .5 1.9 .5-4.5 .5 3.3 .5-2 .5 1.4 .5-1.7 .5 2.3 .5-1.2 .5 1.5 .5-2.6 .5 3.2 .5-1.5 .5 1.5 .5-1.8 .5 1.9 .5-2.3 .5 2.1 .5-2.5 .5 2.5 .5-2.1 .5 1.1 .5-4.1 .5 4.3 .5-1.8 .5 2 .5-3.7 .5 3.3 .5-1.3 .5 1.4 .5-1.7 .5 2.6 .5-2.1 .5 1.8 .5-1.9 .5 1.8 .5-.9 .5 1.3 .5-1.8 .5 3.5 .5-1.8 .5 2.3 .5-2.6 .5 1.7 .5-3.4 .5 2.4 .5-2.2 .5 2 .5-2.2 .5 2.4 .5-1.5 .5 1.2 .5-2.5 .5 3.2 .5-5.3 .5 3.4 .5-1.1 .5 1.7 .5-1.7 .5 3 .5-2.4 .5 2.2 .5-1.2 .5 2.3 .5-2.2 .5 2.6 .5-4 .5 1.8 .5-.8 .5 1 .5-2.3 .5 2.3 .5-1.5 .5 .8 .5-1.6 .5 2 .5-1.7 .5 2.5 .5-2 .5 2.3 .5-3.5 .5 2.3 .5-1.8 .5 2.2 .5-1.7 .5 3.1 .5-3.6 .5 2.1 .5-1.8 .5 .5 .5-.7 .5 .7 .5-1.7 .5 3.2 .5-2.1 .5 1.6 .5-1.4 .5 2.3 .5-3.7 .5 3.3 .5-1.6 .5 1.3 .5-1.3 .5 1.3 .5-2.7 .5 3 .5-3 .5 2.6 .5-2.4 .5 2.4 .5-3.3 .5 3.4 .5-2.5 .5 2.4 .5-2.5 .5 2.6 .5-3 .5 2.7 .5-2.2 .5 2.1 .5-1.5 .5 1.7 .5-1.8 .5 2.2 .5-2.7 .5 2.9 .5-2.7 .5 1.5 .5-2.6 .5 2.9 .5-2.7 .5 3 .5-3.2 .5 2.5 .5-2.7 .5 2.6 .5-4.4 .5 1.9 .5-1.8 .5 1.2 .5-2.2 .5 1.1 .5-3.4 .5 1.6 .5-2.9 .5 2 .5-2.9 .5 2.2 .5-1.6 .5 1.6 .5-1.9 .5 2.6 .5-1 .5 2 .5-1.8 .5 3.8 .5-3.4 .5 4.2 .5-.2 .5 2.3 .5-.4 .5 .3 .5-1.9 .5 1 .5-.6 .5 2.1 .5-.5 .5 1.8 .5-2.6 .5 .5 .5-1.4 .5 2.6 .5-.6 .5 2.4 .5-5.3 .5 4.4 .5-.4 .5 .3 .5-1.2 .5 1.1 .5-1.8 .5 1.6 .5-1 .5 2.1 .5-2.1 .5 1.3 .5-2.2 .5 3.2 .5-1.7 .5 1.8 .5-2.8 .5 2.4 .5-2.3 .5 2 .5-2.6 .5 3.4 .5-3.4 .5 1.8 .5-1.9 .5 1.7 .5-2.1 .5 2.1 .5-1.1 .5 2.3 .5-2.1 .5 2.2 .5-2.7 .5 3.2 .5-1 .5 1.1 .5-2 .5 .3 .5-.8 .5 1.5 .5-1.1 .5 1 .5-.7 .5 1.2 .5-2.3 .5 2.1 .5-1.9 .5 .6 .5-1.1 .5 2.3 .5-1.5 .5 3 .5-1.6 .5 1.4 .5-1 .5 .3 .5-3.6 .5 2.6 .5-1.6 .5 1.6 .5-1.3 .5 2.5 .5-3.5 .5 4.3 .5-2.4 .5 2 .5-2.6 .5 2.7 .5-1.5 .5 1.5 .5-2.4 .5 1 .5-1.4 .5 1 .5-1.6 .5 2.3 .5-1.1 .5 .9 .5-1.4 .5 1.4 .5-3.6 .5 3 .5-.2 .5 2.2 .5-2.6 .5 3.6 .5-3 .5 1 .5-3 .5 1.9 .5-.7 .5 2.1 .5-1.5 .5 2.5 .5-2.1 .5 .4 .5-1 .5 1.8 .5-2.6 .5 1.1 .5-.5 .5 2.5 .5-1.2 .5 1.4 .5-1.9 .5 .9 .5-1.4 .5 .9 .5-3.2 .5 2.8 .5-4.4 .5 4.5 .5-1.6 .5 2.5 .5-2 .5 1.4 .5-1.7 .5 1.8 .5-.1 .5 2.9 .5-2.7 .5 1.1 .5-.6 .5 .5 .5-4.1 .5 2.4 .5-2.7 .5 4.2 .5-3.1 .5 2 .5-1.8 .5 1.6 .5-1.1 .5 .8 .5 .2 .5 .8 .5-1.5 .5 .7 .5-1.6 .5 .6 .5-1 .5 2.8 .5-1.3 .5 2 .5-2.5 .5 1.6 .5-1.7 .5 1.6 .5-1.9 .5 1.7 .5-2 .5 3.3 .5-1.8 .5 1.5 .5-2.7 .5 1.7 .5-2.2 .5 1 .5-.2 .5 .6 .5-.9 .5 2 .5-2.1 .5 2.2 .5-.9 .5 .3 .5-1.6 .5 .4 .5-2.5 .5 2.1 .5-.2 .5 2 .5-.7 .5 .6 .5-2.6 .5 3.2 .5-2.9 .5 4 .5-1.9 .5 1.2 .5-3.1 .5 1.7 .5-1.1 .5 1 .5 .1 .5 2.1 .5-.6 .5 1.1 .5-2.7 .5 1.4 .5-1.6 .5 .9 .5-1.9 .5 2.1 .5-1 .5 1.2 .5-1.5 .5 2.3 .5-1.7 .5 2.2 .5-4.6 .5 2.7 .5-1.7 .5 2.5 .5-.9 .5 2 .5-1.8 .5 1.5 .5-2.3 .5 1.4 .5-2.6 .5 2.2 .5-2 .5 1V672.6H195.3z"/>
<linearGradient id="gG" gradientUnits="userSpaceOnUse" x1="0" y1="440" x2="0" y2="600"><stop offset="0" stop-color="#001000"/><stop offset="1" stop-color="#00a900"/></linearGradient>
<polygon fill="url(#gG)" points="372.3,575.5 372.8,532.3 373.3,460.4 373.8,372.1 374.3,277.2 374.8,198.7 375.2,170.7 375.6,196 376.3,308.5 376.8,404.9 377.3,488.8 377.8,551.6 378.3,588.2"/>
<polyline fill="none" stroke="#000" stroke-width="1.85" stroke-linejoin="round" points="372.3,575.5 372.8,532.3 373.3,460.4 373.8,372.1 374.3,277.2 374.8,198.7 375.2,170.7 375.6,196 376.3,308.5 376.8,404.9 377.3,488.8 377.8,551.6 378.3,588.2"/>
<path fill="#0000aa" stroke="#000" stroke-width="1.85" stroke-linejoin="round" d="M145.6 673.6l.5 8.2 .5-1.9 .5 2.3 .5-1.1 .5 2.8 .5-5.1 .5 2.4 .5-3.6 .5 3.5 .5-1.9 .5 3.3 .5-3.2 .5 2.5 .5-3.5 .5 4.7 .5-1.8 .5 2.4 .5-3.8 .5 2.6 .5-2.8 .5 2.1 .5-2.8 .5 2.5 .5-3.1 .5 3.2 .5-1.7 .5 1.4 .5-2.8 .5 2.5 .5-2.2 .5 4.6 .5-2.8 .5 3.4 .5-2.9 .5 1.5 .5-4.7 .5 3.1 .5-1 .5 3.9 .5-3 .5 1.1 .5-2.7 .5 3.4 .5-1.8 .5 1.9 .5-1.8 .5 2.7 .5-1.8 .5 1.4 .5-4.8 .5 5 .5-6.7 .5 3.5 .5-.5 .5 2 .5-4 .5 3.5 .5-.6 .5 2.3 .5-.2 .5 1.5 .5-3.4 .5 1.1 .5-1.4 .5 1.5 .5-3.2 .5 3 .5-2.5 .5 1.6 .5-.9 .5 2.9 .5-3.1 .5 1.7 .5-2.2 .5 2.9 .5-1.9 .5 2.3 .5-1.7 .5 1.2 .5-.6 .5 2.1 .5-.7 .5 1.6 .5-2.1 .5-.2 .5-1.7 .5 2.3 .5-2.8 .5 2.7 .5-1.3 .5 1.3 .5-2.6 .5 2.1 .5-1.6 .5 .6 .5-1 .5 1.2 .5-1.6 .5 .9 .5-1.6 .5 2.5 .5-2.8 .5 .8 .5-4 .5 .8 .5-4.3 .5 1.4 .5 1.3 .5 2.3 .5 1.3 .5 2.6 .5-.9 .5 1.8 .5-2.6 .5 2.8 .5-1.4 .5 3.4 .5-2 .5 .5 .5-2.3 .5 2.7 .5-2 .5 1.3 .5-2.9 .5 2.7 .5-2.1 .5 3.5 .5-2.4 .5 1.5 .5-3.2 .5 2.8 .5-2.2 .5 3.2 .5-2.1 .5 .4 .5-2.1 .5 1.9 .5-.5 .5 2.2 .5-1.8 .5 1.5 .5-1.6 .5 1.9 .5-1.5 .5 1.3 .5-1.1 .5 1.9 .5-1.5 .5 1.2 .5-1.9 .5 3 .5-2.4 .5 1.7 .5-2.5 .5 1.2 .5-2.3 .5 2.4 .5-2.2 .5 1.9 .5-2 .5 1.9 .5-4.2 .5 5.2 .5-1.8 .5 2.6 .5-3.4 .5 2.6 .5-1.7 .5 1.7 .5-2.1 .5 1.4 .5-2 .5 1.3 .5-1.5 .5 1.9 .5-1.8 .5 2.1 .5-2.5 .5 3.8 .5-2.1 .5 1.5 .5-2.9 .5 1.6 .5-3.6 .5 4.4 .5-4.4 .5 3.2 .5-3.4 .5 3.3 .5-.6 .5 2 .5-1.3 .5 .5 .5-.8 .5 1.5 .5-1.6 .5 .9 .5-2.6 .5 3.3 .5-1.1 .5 1.9 .5-3.7 .5 1.8 .5-1.8 .5 1.9 .5-1.3 .5 2.1 .5-1.3 .5 1.5 .5-2 .5 1.9 .5-1.9 .5 1.4 .5-1.8 .5 1.8 .5-1 .5 1.2 .5-1.1 .5 1.3 .5-3.2 .5 3.7 .5-3.1 .5 1.4 .5 .7 .5 1 .5-1.7 .5 2.5 .5-3.2 .5 2.6 .5-1.2 .5 .8 .5-1.4 .5 2 .5-1.5 .5 1.9 .5-2 .5 1.9 .5-1.5 .5 .3 .5-2.9 .5 1 .5-.2 .5 3.1 .5-1.9 .5 1.5 .5-1.7 .5 1.7 .5-2.8 .5 2 .5-3.1 .5 1.4 .5-1.1 .5 1.8 .5-.8 .5 1.8 .5-2 .5 2.6 .5-1.8 .5 .9 .5-2.3 .5 1.7 .5-.8 .5 1.4 .5-2.1 .5 1.6 .5-3.9 .5 3.2 .5-1.9 .5 1.5 .5 0 .5 1.1 .5-.6 .5 1.3 .5-2 .5 1.7 .5-5 .5 2.8 .5-2.3 .5 4.7 .5-1.5 .5 1.5 .5-2.8 .5 2 .5-1.6 .5 2.1 .5-1.6 .5 1.8 .5-1.9 .5 2 .5-.8 .5 2 .5-1.9 .5 1.2 .5-3.3 .5 1.1 .5-.9 .5 1.4 .5-1.9 .5 1.6 .5-1.1 .5 2.4 .5-2.4 .5 1.4 .5-.7 .5 2.5 .5-2.2 .5 2.3 .5-1.8 .5 1.6 .5-2.4 .5 1.2 .5-1 .5 1.7 .5-2.8 .5 1.5 .5-1.1 .5 .9 .5-1.8 .5 2.5 .5-1.6 .5 1.5 .5-2.3 .5 .3 .5-1.2 .5 1.2 .5-2.1 .5 3 .5-2.2 .5 2.4 .5-3.2 .5 3.7 .5-.9 .5 1.5 .5-1.1 .5 1.7 .5-3.5 .5 1.8 .5-2.7 .5 2.2 .5-1.6 .5 2.4 .5-4.8 .5 3 .5-3.1 .5 1.6 .5-1.8 .5 1.4 .5-1.8 .5 1.3 .5-1.7 .5-.4 .5-3.1 .5 1.1 .5-6.6 .5-17.8 .5-79.7 .5-143.8 .5-145.4 .5-75.7 .5-26.8 .5-24 .4-10.9 .4 52 .7 191.8 .5 155.7 .5 92.6 .5 30 .5 3.3 .5 4.7 .5-.7 .5 2.5 .5-2 .5 3.4 .5-2 .5 5.2 .5-2.2 .5 1.5 .5-2.5 .5 4.1 .5-3 .5 2.1 .5-.7 .5 .4 .5-2.8 .5 3.6 .5-1.4 .5 3.1 .5-2.7 .5 1.7 .5-2.8 .5 2.5 .5-1.6 .5 3.3 .5-4.2 .5 4.7 .5-3.2 .5 1.5 .5-1.8 .5 1.6 .5-1.1 .5 1.2 .5-1.8 .5 2.8 .5-3.3 .5 2.4 .5-1.9 .5 3.1 .5-2 .5 1.9 .5-2.4 .5 1.5 .5-1.3 .5 1.3 .5-2.3 .5 1.3 .5-1.6 .5 1.4 .5-2.8 .5 2.4 .5-1.9 .5-.1 .5-4.3 .5-2.8 .5-2.7 .5 2.6 .5 2.2 .5 4.5 .5 .9 .5 2.2 .5-.1 .5 2.1 .5-1.9 .5 1.9 .5-1.5 .5 .8 .5-1.8 .5 2.9 .5-3.8 .5 1.7 .5-2.2 .5 2 .5-.1 .5 2.2 .5-2.9 .5 1.8 .5-2.4 .5 2.7 .5-2.2 .5 3.4 .5-2.6 .5 2 .5-2.6 .5 2.8 .5-1.8 .5 .9 .5-.6 .5 1.8 .5-1 .5 .4 .5-1.3 .5 .6 .5-1 .5 .8 .5-2 .5 2.3 .5-3.6 .5 2.4 .5-1.1 .5 1.3 .5-1.9 .5 1.5 .5-.5 .5 1 .5-2 .5 2 .5-.4 .5 1.3 .5-2.3 .5 1.8 .5-.5 .5 .8 .5-1.4 .5 1.2 .5-1.4 .5 1.4 .5-1.8 .5 1.7 .5-1.4 .5 1.1 .5-1.9 .5 1.4 .5-1.8 .5 2 .5-1.9 .5 2.9 .5-2.1 .5 .8 .5-1.4 .5 2.7 .5-2 .5 1.8 .5-1.8 .5 1.4 .5-1.2 .5 2.7 .5-1.5 .5 1.7 .5-1.2 .5 .7 .5-2.6 .5 3.4 .5-1.7 .5 .9 .5-1.9 .5 1.9 .5-2.3 .5 1.8 .5-1.9 .5 1.7 .5-1 .5 3.2 .5-3 .5 2.5 .5-2.4 .5 .4 .5-1.6 .5 2.1 .5-1.3 .5 .9 .5-.9 .5 2.2 .5-3.2 .5 2.4 .5-2.4 .5 .8 .5-.9 .5 2.4 .5-.5 .5 2 .5-4.3 .5 3.2 .5-3.2 .5 3.4 .5-1.7 .5 2.3 .5-1.7 .5 1.8 .5-3.1 .5 1.2 .5-1.8 .5 1.7 .5-2.1 .5 1.3 .5-.1 .5 2.2 .5-2.3 .5 1.5 .5-3 .5 3.1 .5-2.1 .5 3.2 .5-1.6 .5 1.7 .5-2.1 .5 1.7 .5-1.2 .5 1.7 .5-2.4 .5 1 .5-1.2 .5 1.5 .5-.6 .5 1.8 .5-1.6 .5 2 .5-2.9 .5 5.4 .5-2.5 .5 .8 .5-3.5 .5 1.6 .5-1.6 .5 .3 .5-1.9 .5 1.8 .5-.2 .5 1.7 .5-1.6 .5 .8 .5-2.5 .5 2.6 .5-.5 .5 1.4 .5-4.8 .5 4.1 .5-2 .5 2.7 .5-.7 .5 1.2 .5-2 .5 1 .5-1.8 .5 1.3 .5-2.5 .5 2.7 .5-1.4 .5 2.1 .5-1.7 .5 .5 .5-2 .5 1.8 .5-1.5 .5 3.4 .5-2.2 .5 1 .5-.8 .5 1.2 .5 0 .5-.1 .5-3.2 .5 2.4 .5-2.3 .5 2.1 .5-1.5 .5 1.7 .5-1.1 .5 2.3 .5-1.8 .5 .6 .5-2.1 .5 2 .5-2.1 .5 1.6 .5-2 .5 2.3 .5-1.2 .5 1.7 .5-1.2 .5 1.1 .5-2.8 .5 1.2 .5-1.4 .5 2.8 .5-1 .5 1.1 .5-1.3 .5 2.1 .5-3.7 .5 1.6 .5-.9 .5 .3 .5-.6 .5 1.9 .5-2.9 .5 2.1 .5-1 .5 1.1 .5-1.9 .5 1.6 .5-2.2 .5 2.1 .5-.9 .5 .5 .5-1.8 .5 .7 .5-3.8 .5 .4 .5-5.2 .5-2 .5-9 .5-11.3 .7-33.4 .4-13.9 .4 5.6 .5 13.7 .5 6.1 .5 17.8 .5 12.6 .5 10.2 .5 1 .5 7.5 .5-.6 .5 4.5 .5-2 .5 1.9 .5-1.8 .5 2.5 .5-.4 .5 1.2 .5-1.2 .5 1.4 .5-2.7 .5 3 .5-1.3 .5 1.5 .5-1.3 .5 1.8 .5-1 .5 2.2 .5-2.3 .5 .5 .5-2.1 .5 2.5 .5-1.4 .5 2.6 .5-1.6 .5 1.9 .5-2.9 .5 1.4 .5-1.7 .5 2.6 .5-1.3 .5 1.8 .5-2.7 .5 2.6 .5-1.1 .5 1 .5-1.5 .5 2.3 .5-2.8 .5 1.6 .5-1.1 .5 1.2 .5-1.8 .5 1.1 .5-1 .5 1.8 .5-1.5 .5 2.6 .5-1.1 .5 1 .5-2.2 .5 1.3 .5-1.4 .5 1.1 .5-1.8 .5 2 .5-2.4 .5 3 .5-1.9 .5 1.4 .5-1.5 .5 1.2 .5-1.8 .5 1.1 .5-1.1 .5 2.8 .5-.8 .5 1.8 .5-2.2 .5-.1 .5-2.4 .5 2.1 .5-1.8 .5 3.4 .5-3 .5 2.2 .5-2.3 .5 1.9 .5-2 .5 1.8 .5-1.6 .5 1.9 .5-2.3 .5 1.1 .5-1.7 .5 3.7 .5-.9 .5 1 .5-.3 .5 .8 .5-.7 .5 2.2 .5-4.3 .5 3.1 .5-2.7 .5 3.2 .5-3.3 .5 1.6 .5-1.8 .5 4.1 .5-3.1 .5 2.5 .5-2.9 .5 1.1 .5-2.2 .5 .9 .5-2 .5 2 .5 .1 .5 2.6 .5-2.3 .5 1.9 .5-1.5 .5 1.2 .5-2.2 .5 1.2 .5-.9 .5 .8 .5-1.7 .5 1.7 .5-1.1 .5 1.8 .5-2.7 .5 .9 .5-2.2 .5 2.2 .5-.2 .5 1.7 .5-1 .5 2.1 .5-3.5 .5 3.1 .5-1.2 .5 1.4 .5-1.7 .5 1.2 .5-3.5 .5 2.8 .5-2.9 .5 2.5 .5-.8 .5 2.5 .5-2.5 .5 1.9 .5-.6 .5 .6 .5-2.2 .5 .9 .5-1.2 .5 1.7 .5-.4 .5 1.3 .5-1.1 .5 1.8 .5-1.8 .5 .7 .5-1.5 .5 1.6 .5-1.5 .5 1.6 .5-2.2 .5 2.4 .5-1.9 .5 .8 .5-1.7 .5 2 .5-1.1 .5 2 .5-1.3 .5 1.5 .5-2.3 .5 1.2 .5-1.9 .5 1 .5-.5 .5 1.9 .5-1 .5 1.6 .5-2.3 .5 1.9 .5-1.6 .5 1 .5-1.9 .5 2.3 .5-2.1 .5 3.8 .5-2.2 .5 1.4 .5-2 .5 2 .5-.5 .5 .9 .5-3.7 .5 4.2 .5-2.7 .5 .9 .5-1.5 .5 1.7 .5-3.2 .5 2.8 .5-1.5 .5 1.3 .5-1 .5 1.9 .5-1.5 .5 2.1 .5-3.1 .5 1.4 .5-3.5 .5 1.5 .5-2 .5 2.3 .5-1 .5 2.5 .5-2 .5 2.1 .5-1.9 .5 2.6 .5-1.7 .5 1.9 .5-2.3 .5 1.2 .5-1.8 .5 1.1 .5-2.1 .5 .8 .5-.7 .5 1.7 .5-1.3 .5 1.5 .5-2.1 .5 1.5 .5-1.1 .5 .9 .5-2.2 .5 2.4 .5-1 .5 1.7 .5-2.2 .5 .3 .5-3.4 .5-.1 .5-2 .5 1.2 .5-1.9 .5-.1 .5-6 .5 1.8 .5-8.4 .5-5.6 .5-12.2 .5-15.1 .5-27.4 .6-37.8 .4-14.6 .4 4.5 .6 19.4 .5 14.6 .5 10.3 .5 21.1 .5 16.4 .5 15.1 .5 6.5 .5 9.3 .5 1.2 .5 4.8 .5 1.5 .5 2.7 .5-1.4 .5 2.7 .5-.9 .5 1.9 .5-.8 .5 2.6 .5-.7 .5 1.8 .5-.7 .5 .8 .5-1.6 .5 2.9 .5-2 .5 2.5 .5-1.7 .5 .4 .5-1.7 .5 2 .5-2.9 .5 3.7 .5-1.1 .5 1.2 .5-2.4 .5 2.1 .5-1.7 .5 2.8 .5-2.7 .5 1.5 .5-.9 .5 1.4 .5-.9 .5 1.3 .5-1.6 .5 1.9 .5-3.1 .5 2.2 .5-1.8 .5 2.1 .5 .2 .5 1.2 .5-1.9 .5 1.7 .5-1.7 .5 .8 .5-2 .5 1.1 .5-2 .5 2.4 .5-.6 .5 1.9 .5-2 .5 1.1 .5-2 .5 2.5 .5-1.3 .5 .8 .5-2.3 .5 1.6 .5-2.2 .5 2.9 .5-1 .5 2.7 .5-2.4 .5 1.8 .5-1.7 .5 1.3 .5-3.8 .5 2.9 .5-.5 .5 1 .5-1.3 .5 1.3 .5-1.5 .5 1.5 .5-1.3 .5 2.1 .5-1.4 .5 2.1 .5-2.8 .5 2.8 .5-2.6 .5 2.7 .5-2 .5 2 .5-3.2 .5 .8 .5-2 .5 1.8 .5-1.4 .5 2.3 .5-1 .5 1.9 .5-1.5 .5 .9 .5-1.4 .5 2.5 .5-1.1 .5 2.7 .5-2.7 .5 .7 .5-2.5 .5 .5 .5-.8 .5 1.8 .5-.7 .5 1.3 .5-3 .5 .2 .5-1.5 .5 2.8 .5-1.3 .5 2 .5-1.5 .5 1.8 .5-2.2 .5 2 .5-.9 .5 1.7 .5-2.8 .5 2.2 .5-1.7 .5 1.7 .5-2.2 .5 1.8 .5-2.3 .5 1.7 .5-1 .5 2.1 .5-.6 .5 1.6 .5-1.6 .5 .6 .5-2 .5 .3 .5-1.6 .5 3.1 .5-1.4 .5 2.1 .5-2 .5 1.1 .5-1.5 .5 .9 .5-1.5 .5 .5 .5-1.2 .5 2 .5-3.1 .5 3.3 .5-1 .5 2.3 .5-2.8 .5 1.9 .5-2.2 .5 1.3 .5-2.1 .5 2.3 .5-1.8 .5 1.5 .5-1.6 .5 2.5 .5-1 .5 1.6 .5-2.1 .5 1.6 .5-.4 .5 .6 .5-3.1 .5 2.3 .5-.4 .5 1.6 .5-2.6 .5 1.1 .5-2.1 .5 2.1 .5-2.4 .5 2 .5-2.9 .5 3.3 .5-1.2 .5 2.6 .5-.9 .5 1.9 .5-2.6 .5 1 .5-1.5 .5 2.5 .5-1.6 .5 1.9 .5-1.9 .5 1.7 .5-2.1 .5 1.9 .5-2.9 .5 1.4 .5-.7 .5 1.4 .5-2 .5 .6 .5-2.2 .5 1 .5-.9 .5 3.1 .5-1.8 .5 2.2 .5-3.9 .5 3 .5-1.1 .5 2 .5-1.6 .5 2.2 .5-2 .5 .7 .5-2.9 .5-.6 .5-1.3 .5 2.1 .5-1.3 .5 .8 .5-2 .5 .6 .5-2.4 .5 .6 .5-3.5 .5-.6 .5-4.7 .5-2.5 .5-7.8 .5-5.1 .5-3.1 .5 2.3 .5 1.4 .5 5.1 .5 .7 .5 3.9 .5 1.3 .5 5.4 .5 2.6 .5 4.3 .5-.9 .5 3.4 .5-1.1 .5 1 .5-.6 .5 3.3 .5-2.5 .5 3.1 .5-1.8 .5 1.7 .5-2.4 .5 3.2 .5-2.2 .5 1.7 .5-1.6 .5 2.4 .5-2.9 .5 3.2 .5-2.4 .5 2.3 .5-1.9 .5 2.6 .5-1.5 .5 2.3 .5-2.8 .5 1.1 .5-1.9 .5 2 .5-1.4 .5 2.4 .5-1.3 .5 .6 .5-.8 .5 2.3 .5-2.1 .5 1.8 .5-1.8 .5 2.1 .5-1.9 .5 1.1 .5-3.4 .5 2.3 .5-1.8 .5 3 .5-2.1 .5 .9 .5-2.2 .5 2.8 .5-.2 .5 1.1 .5-1.6 .5 1.5 .5-3.2 .5 3.3 .5-2.9 .5 .6 .5-1.1 .5 3.3 .5-1.3 .5 2 .5-2 .5 1.8 .5-2.6 .5 1.9 .5-3.3 .5 3.4 .5-2.4 .5 2 .5-1.1 .5 1.7 .5-2.2 .5 0 .5-1.2 .5 1.3 .5-1.6 .5 2.4 .5-1.7 .5 2.8 .5-1.9 .5 1.8 .5-1.4 .5 1.9 .5-1.9 .5 1.7 .5-1.4 .5 1 .5-1.8 .5 1.7 .5-1.5 .5 2.5 .5-1.2 .5 .7 .5-1.4 .5 2.3 .5-2.2 .5 1.8 .5-2.4 .5 .2 .5-.9 .5 1.3 .5-1.4 .5 2.5 .5-.9 .5 .6 .5-1.2 .5 .5 .5-.8 .5 1.5 .5-1.2 .5 .6 .5 .1 .5 .4 .5-1.9 .5 1.8 .5-1.9 .5 1.7 .5-2 .5 2.7 .5-1.2 .5 2.3 .5-1.9 .5 1.6 .5-2.4 .5 .5 .5-.6 .5 2.5 .5-1.6 .5 1.9 .5-.9 .5 1.2 .5-3.3 .5 2.1 .5-2.5 .5 2.3 .5-1.4 .5 2.5 .5-2.2 .5 1.7 .5-3.4 .5 2.2 .5-1.5 .5 2.7 .5-1.9 .5 .9 .5-2.2 .5 4.3 .5-3.9 .5 2.8 .5-1.7 .5 1.8 .5-1.4 .5 1.8 .5-2.1 .5 1.4 .5-.2 .5 1.6 .5-1.5 .5 1.7 .5-2.4 .5 1.2 .5-1.9 .5 1.5 .5-.7 .5 1.6 .5-2.1 .5 1.6 .5-2.1 .5 1.1 .5-.6 .5 2 .5-2.6 .5 1.1 .5-2.2 .5 4 .5-2.8 .5 1.5 .5-3.5 .5 3.6 .5-2.2 .5 .8 .5-.6 .5 1.6 .5-1.2 .5 2.2 .5-3.6 .5 3.5 .5-2 .5 2.9 .5-3.1 .5 .8 .5-3.1 .5 2.8 .5-1.9 .5 3.2 .5-.9 .5 .6 .5-2.1 .5 1.6 .5-1.7 .5 1.5 .5-1.8 .5 1.6 .5-2 .5 1.2 .5-1.9 .5 1.3 .5-.4 .5 1 .5-1.3 .5 1.2 .5-1.8 .5 1.2 .5-2 .5 1.1 .5-1.8 .5 1.2 .5-1.7 .5 1.4 .5-2.5 .5 .6 .5-3.5 .5-.2 .5-3.7 .5-.6 .5-3.3 .5-1.2 .5-6.2 .5-3.7 .5-7.8 .5-5.4 .5-8.5 .5-2.3 .5-2.6 .5 4 .5 2.7 .5 4.2 .5 1.1 .5 3.6 .5 2.2 .5 6 .5 5 .5 5.5 .5 1.3 .5 4.7 .5 1 .5 3.9 .5-.1 .5 3.2 .5-.6 .5 2 .5-.4 .5 2.3 .5-1 .5 2.2 .5-1.5 .5 1.9 .5-2.5 .5 2.7 .5-.6 .5 .2 .5-1.3 .5 1.9 .5-1.1 .5 2.7 .5-2.5 .5 .9 .5-.9 .5 1.9 .5-1 .5 2.1 .5-2.6 .5 1 .5-1.4 .5 2.4 .5-.6 .5 .8 .5-2.6 .5 1.7 .5-1.3 .5 2.9 .5-1.4 .5 .2 .5-1.4 .5 1.5 .5-1.6 .5 2 .5-.3 .5 1.8 .5-3 .5 2.2 .5-2.5 .5 3.2 .5-5.2 .5 3.5 .5-2.7 .5 1.9 .5-.2 .5 1.5 .5-.3 .5 .9 .5-.7 .5 .8 .5-2.1 .5 1.1 .5-2.1 .5 2.9 .5-1.7 .5 2.2 .5-.7 .5 1.6 .5-2.5 .5 1.6 .5-1.2 .5 .7 .5-1.7 .5 .5 .5-1.5 .5 2.3 .5-.2 .5 1.7 .5-1.3 .5 .9 .5-2 .5 1.5 .5-2.6 .5 1 .5-.8 .5 1.4 .5-.3 .5 1.8 .5-2 .5 1.8 .5-1.6 .5 2.3 .5-.7 .5 1.3 .5-2.2 .5 1.5 .5-1.9 .5 1.3 .5-2 .5 2.5 .5-2.6 .5 2.2 .5-2.7 .5 1.2 .5-2 .5 1.4 .5-1.1 .5 1.9 .5-1.1 .5 2.1 .5-1.4 .5 1.8 .5-1.5 .5 1.7 .5-2.5 .5 1.3 .5-.8 .5 1.6 .5-2 .5 .9 .5-2.9 .5 2.5 .5-3.2 .5 2.3 .5-1.4 .5 1.8 .5-2.6 .5 3.3 .5-2.2 .5 3 .5-.6 .5 3.8 .5-3.4 .5 .2 .5-2.9 .5 2.9 .5-2.8 .5 4 .5-2.4 .5 1.8 .5-1.9 .5 2.7 .5-1.7 .5 1.6 .5-2.8 .5 1.1 .5-1.2 .5 1.3 .5-1.8 .5 2.8 .5-2.1 .5 .8 .5-.6 .5 2.6 .5-2.7 .5 2.1 .5-2.4 .5 2.8 .5-1.9 .5 1.6 .5-2.1 .5 1.5 .5-2.2 .5 2.6 .5-1.6 .5 3.4 .5-4.8 .5 3.9 .5-.7 .5 1 .5-2.2 .5 1.6 .5-1.2 .5 1.5 .5-.6 .5 1.8 .5-2.6 .5 .5 .5-1.3 .5 .5 .5-1.8 .5 1.2 .5-.6 .5 1.7 .5-.6 .5 .6 .5-1.8 .5 1.4 .5-3.9 .5 3.4 .5-.9 .5 2 .5-2.5 .5 3.1 .5-2.8 .5 3 .5-3.1 .5 2.4 .5-1.1 .5 1.8 .5-3.7 .5 3.4 .5-2.4 .5 2.1 .5-3.2 .5 3.4 .5-1.4 .5 1.1 .5-1.1 .5 1.1 .5-2.5 .5 2.1 .5-3.6 .5 3.3 .5-4.8 .5 4.7 .5-1.5 .5 1.7 .5-2.2 .5 .9 .5-2.1 .5 1.3 .5-1.1 .5 1.2 .5-2.7 .5 2.5 .5-1.3 .5 1.6 .5-2.8 .5 2.7 .5-1.9 .5 1.8 .5-2.8 .5 1.8 .5-1.3 .5 1.3 .5-2.2 .5 .8 .5-2.3 .5-.5 .5-2.9 .5 .9 .5-2.1 .5 .9 .5-3.5 .5 .9 .5-.9 .5 2.2 .5-.9 .5 2.8 .5-.6 .5 2.2 .5-2.7 .5 1.5 .5-1.9 .5 4.8 .5-2.4 .5 4.3 .5-.3 .5 1.5 .5-1.5 .5 1.6 .5-1.5 .5 1.8 .5-2.7 .5 3.1 .5-.5 .5 2.9 .5-1.2 .5 .7 .5-3.1 .5 1.8 .5-.4 .5 1.4 .5-1.8 .5 1.7 .5-1.5 .5 1.8 .5-2.2 .5 3.3 .5-2.6 .5 2.2 .5-2.6 .5 1.7 .5 0 .5 1.4 .5-.6 .5 1.3 .5-1.6 .5 .8 .5-2.1 .5 1.8 .5-1.7 .5 2 .5-2.1 .5 2 .5-2 .5 1.7 .5-2.1 .5 2 .5-2.5 .5 1.2 .5-2.6 .5 3.1 .5-2 .5 1 .5-1.7 .5 1.4 .5-1.7 .5 1.9 .5-1.2 .5 2 .5-1.2 .5 1.2 .5-1 .5 .6 .5-2 .5 2.4 .5-.9 .5 3.5 .5-3.5 .5 2.2 .5-4 .5 3.8 .5-1.4 .5 1.2 .5-4 .5 3.3 .5-2.9 .5 3.1 .5-2.1 .5 2.1 .5-1.7 .5 2 .5-1.2 .5 2.4 .5-2.3 .5 1.7 .5-1.7 .5 1.3 .5-1.5 .5 1.1 .5-.6 .5 1.1 .5-1.4 .5 1.8 .5-2.2 .5 1.2 .5-1.5 .5 1.4 .5-1.7 .5 2.3 .5-1.8 .5 3.1 .5-.7 .5 1.3 .5-2.6 .5 1.3 .5-2.4 .5 1.6 .5-2.1 .5 2.3 .5-1.3 .5 .9 .5-1.7 .5 2.3 .5-.2 .5 2.4 .5-2.7 .5 1.5 .5-2.2 .5 2.2 .5-1.7 .5 1.9 .5-2.2 .5 1.2 .5-3.4 .5 3.4 .5-2 .5 2.6 .5-2 .5 1.3 .5-1.9 .5 1.9 .5-1.6 .5 1.7 .5-2.7 .5 1.7 .5-1.6 .5 1.9 .5-2.5 .5 2.4 .5-1.3 .5 .5 .5-2.5 .5 1.9 .5 .2 .5 2.3 .5-2.1 .5 1.6 .5-1.9 .5 1.7 .5-.9 .5 1.7 .5-2.6 .5 2.2 .5-2.9 .5 2.7 .5-1 .5 1.3 .5-1.8 .5 .7 .5-1.1 .5 .9 .5-2.1 .5 2.7 .5-2.4 .5 1.9 .5-.3 .5 1.9 .5-1.4 .5 2.4 .5-1.9 .5 1.6 .5-1.7 .5 .6 .5-1.4 .5 1.9 .5-1.1 .5 1.6 .5-1.6 .5 .9 .5-1.6 .5 3.1 .5-1.6 .5 1.3 .5-1.8 .5 2 .5-3 .5 2.7 .5-2.1 .5 .9 .5-2.9 .5 1.2 .5-2 .5 1.9 .5-.8 .5 1.7 .5-2.5 .5 2.3 .5-1.5 .5 3.1 .5-2.8 .5 1.9 .5-1.8 .5 3.7 .5-1.1 .5 .8 .5-2.1 .5 .7 .5-2.2 .5 1 .5-.9 .5 2.2 .5-1.4 .5 2.2 .5-2.9 .5 2 .5-1.2 .5 1.9 .5-2.5 .5 1 .5-1.7 .5 1.5 .5-2.4 .5 2.4 .5-1.6 .5 1.7 .5-1.9 .5 3.2 .5-.6 .5 3.2 .5-5.2 .5 2 .5-3 .5 1.8 .5-2.1 .5 1.1V724.1H145.6z"/>
<linearGradient id="gB" gradientUnits="userSpaceOnUse" x1="0" y1="440" x2="0" y2="650"><stop offset="0" stop-color="#000016"/><stop offset="1" stop-color="#0000aa"/></linearGradient>
<polygon fill="url(#gB)" points="323.1,647.8 323.6,568.1 324.1,424.3 324.6,278.9 325.1,203.2 325.6,176.4 326.1,152.4 326.5,141.5 326.9,193.5 327.6,385.3 328.1,541 328.6,633.6"/>
<polyline fill="none" stroke="#000" stroke-width="1.85" stroke-linejoin="round" points="323.1,647.8 323.6,568.1 324.1,424.3 324.6,278.9 325.1,203.2 325.6,176.4 326.1,152.4 326.5,141.5 326.9,193.5 327.6,385.3 328.1,541 328.6,633.6"/>
<path fill="#00ffff" stroke="#000" stroke-width="1.85" stroke-linejoin="round" d="M95.9 729.2l.5 6.8 .5-2 .5 2.6 .5-4.6 .5 3.1 .5-3.4 .5 2.4 .5-2.5 .5 3.1 .5-4.1 .5 4.4 .5-2.3 .5 1.5 .5-3.1 .5 3.5 .5-3.4 .5 3.3 .5-2.4 .5 3.1 .5-3.3 .5 3.4 .5-4.4 .5 2.9 .5-2.4 .5 2 .5-1.4 .5 3.2 .5-3.5 .5 1.5 .5-2.4 .5 3.3 .5-2.8 .5 3.6 .5-1.5 .5 1.3 .5-4.3 .5 3.9 .5-2.2 .5 3.6 .5-3.4 .5 2.5 .5-3.6 .5 3 .5-2.9 .5 3.4 .5-1 .5 1.4 .5-3.1 .5 1.6 .5-2.7 .5 3.3 .5-2 .5 2.3 .5-.5 .5 2.2 .5-3.2 .5 2.6 .5-2.3 .5 2.5 .5-2 .5 1.6 .5-1.9 .5 1.1 .5-2.7 .5 .6 .5-.2 .5 1.6 .5-1.5 .5 1.2 .5-1.7 .5 1.4 .5-2.6 .5 2.5 .5-1.6 .5 2.4 .5-1.7 .5 2 .5-1.6 .5 1.5 .5-1.4 .5 2 .5-.9 .5 1.2 .5-2.2 .5 2.1 .5-1.8 .5 .9 .5-2.3 .5 2 .5-1.4 .5 .9 .5-1.6 .5 2 .5-1.6 .5 2.8 .5-2.5 .5 2.3 .5-2.4 .5 1.3 .5-.3 .5 1.6 .5-1.3 .5 2.1 .5-1.9 .5 2.1 .5-3.4 .5 1.6 .5-2.7 .5 1.5 .5-2.7 .5 2.7 .5-3.1 .5 2.9 .5-1.6 .5 2 .5-1.4 .5 1.6 .5-2.7 .5 1.6 .5-1.9 .5 1.9 .5-1.2 .5 2 .5-2.4 .5 3.4 .5-1.2 .5 1.6 .5-3.5 .5 2.4 .5-1.6 .5 1.1 .5-1.5 .5 1.6 .5-1.5 .5 3 .5-.9 .5 .8 .5-.7 .5 .7 .5-2.7 .5 1.3 .5-1.2 .5 .9 .5-1.5 .5 2.1 .5-1.3 .5 1.6 .5-1 .5 .5 .5-3.1 .5 5.5 .5-2.5 .5 2.6 .5-3.7 .5 .8 .5-1.2 .5 1.2 .5-3.4 .5 3 .5-2.1 .5 5 .5-2 .5 2.1 .5-2.4 .5 1 .5-3.4 .5 .8 .5-.5 .5 2.3 .5-1.8 .5 1.6 .5-2.7 .5 2.7 .5-3.1 .5 3.9 .5-3 .5 3.5 .5-2.6 .5 2.8 .5-1.2 .5 1.2 .5-1.7 .5 1.1 .5-2.9 .5 2.1 .5-1.6 .5 1.7 .5-1.6 .5 1.8 .5-2.7 .5 2.9 .5-1.6 .5 .5 .5-1.7 .5 2.1 .5-2.5 .5 3.8 .5-1.2 .5 1.2 .5-1 .5 1.2 .5-1.5 .5 2.3 .5-1.9 .5 .3 .5-2.7 .5 1.6 .5-1.9 .5 2.5 .5-2.1 .5 3.3 .5-2.4 .5 2.9 .5-1 .5 2.3 .5-1.4 .5 1.3 .5-2.5 .5 1.2 .5-3.2 .5 3.1 .5-1.8 .5 2 .5-2.6 .5 .9 .5-2.3 .5 1.9 .5-.9 .5 1.5 .5-2.1 .5 1.7 .5-1 .5 2.2 .5-2.9 .5 3.2 .5-3.3 .5 2.8 .5-2.7 .5 2.8 .5-2.6 .5 1.5 .5-3 .5 3.4 .5-1.6 .5 1.7 .5-2.3 .5 1.7 .5-2 .5 1.1 .5-.8 .5 .9 .5-2.2 .5 3.9 .5-2.4 .5 2.9 .5-2.6 .5 .5 .5-1.7 .5 1.9 .5-.7 .5 1.2 .5-4.2 .5 4.2 .5-2.9 .5 1.3 .5-2.2 .5 2.9 .5-.8 .5 1.8 .5-1.8 .5 2 .5-1.9 .5 1.7 .5-.1 .5 1.3 .5-1.5 .5 1 .5-2.7 .5 1.9 .5-1 .5 2.2 .5-1.9 .5 .8 .5-2.2 .5 2.9 .5-.7 .5 1.5 .5-2.4 .5 .7 .5-1.5 .5 1.7 .5-1.3 .5 1 .5-1.4 .5 .9 .5-.9 .5 1.2 .5-.9 .5 1.7 .5-2.3 .5 2.2 .5-2.3 .5 2.1 .5-1.5 .5 1 .5-1.7 .5 3.4 .5-2 .5 1.1 .5-2.1 .5 1.7 .5-2 .5 2.4 .5-.6 .5 1.2 .5-3.1 .5 1.3 .5-.2 .5 1.5 .5-1.7 .5 1.7 .5-2 .5 2.2 .5-1.7 .5 1.7 .5-2.8 .5 1.1 .5-2.8 .5 2.9 .5-1.1 .5 1 .5-1 .5 2.5 .5-1.8 .5 1.1 .5-2.3 .5 1 .5-1.8 .5 1.1 .5-1.6 .5 1.4 .5-4.1 .5 2.1 .5-2.5 .5 1.3 .5-3.4 .5 .4 .5-3.7 .5-1 .5-4.9 .5-2.2 .5-8.6 .5-7.7 .5-19.4 .5-28.8 .5-59.7 .5-91.9 .4-58.5 .4 11.4 .7 81.4 .5 75.6 .5 47.8 .5 29.4 .5 11.7 .5 12.7 .5 3.2 .5 7.6 .5-1.6 .5 5.3 .5 .1 .5 3.6 .5-.4 .5 1.6 .5-.3 .5 2.4 .5-2.7 .5 3.2 .5-2.2 .5 2.7 .5-2.8 .5 1.5 .5-2 .5 2.1 .5-.3 .5 1.9 .5-1.8 .5 2.8 .5-2.7 .5 2.9 .5-1.4 .5 2.9 .5-2.8 .5 2.3 .5-.7 .5 .2 .5-2.1 .5 1.2 .5-1.4 .5 2.1 .5-.8 .5 1.4 .5-2.6 .5 3.3 .5-2.5 .5 1 .5-.8 .5 .4 .5-.9 .5 1.9 .5-.9 .5 1.2 .5-3.6 .5 3.3 .5-2.7 .5 2.4 .5-2.1 .5 1.6 .5-2.7 .5 2.4 .5-1.3 .5 2.1 .5-2.2 .5 2 .5-2.4 .5 .7 .5-.3 .5 1.4 .5-2.7 .5 4.4 .5-1.8 .5 2 .5-2.9 .5 2.6 .5-2.4 .5 1.8 .5-1.4 .5 1.3 .5-1.3 .5 .5 .5-1.1 .5 1.2 .5 0 .5 2 .5-2.8 .5 1.7 .5-2.8 .5 .7 .5-1.5 .5 3.4 .5-1.2 .5 2.4 .5-1.9 .5 1.2 .5-.8 .5 .4 .5-1.5 .5 1.2 .5-1.8 .5 1.1 .5-1.6 .5 1.8 .5-2.1 .5 1.5 .5-.5 .5 1.6 .5-2.7 .5 2.5 .5-.5 .5 1.1 .5-.9 .5 2.1 .5-1.6 .5 1.7 .5-2.2 .5 1.1 .5-1 .5 1.7 .5-.8 .5 1 .5-3.1 .5 1.3 .5-1.2 .5 2 .5-1.2 .5 .9 .5-1.4 .5 .6 .5-1.8 .5 1.7 .5-1.8 .5 3.1 .5-1.7 .5 1.6 .5-1.4 .5 2.1 .5-1.5 .5 1.4 .5-2.4 .5 2 .5-2.4 .5 1.8 .5-1.2 .5 1.4 .5-.9 .5 1.9 .5-2.1 .5 1.1 .5-1.2 .5 1.6 .5-2.2 .5 1.9 .5-1.6 .5 2 .5-2.6 .5 2 .5-1.5 .5 1.5 .5-1.4 .5 1.5 .5-1.4 .5 1.3 .5-1.2 .5 1.9 .5-1 .5 1 .5-1.6 .5 1.3 .5-1.8 .5 1.1 .5-.5 .5 .6 .5-3.1 .5 2.7 .5-1 .5 1 .5-3.5 .5 5.8 .5-2.8 .5 1.3 .5-2.2 .5 1.9 .5-2.5 .5 3 .5-4.2 .5 3.7 .5-2.8 .5 2.5 .5-.9 .5 2 .5-2 .5 .7 .5-1.1 .5 1.8 .5-1.4 .5 1.6 .5-1.7 .5 1.6 .5-1.9 .5 .5 .5-1.9 .5 1.5 .5-2.1 .5 1.9 .5-1.4 .5 1.1 .5-3.5 .5 4 .5-1.1 .5 2.3 .5-2.3 .5 2.4 .5-1.5 .5 .7 .5-2.4 .5 2 .5-1.6 .5 1.9 .5-1.9 .5 2.5 .5-2.2 .5 1.7 .5-1 .5 2.2 .5-1.9 .5 1.6 .5-1.9 .5 1.5 .5-1 .5 2.3 .5-2.9 .5 1.4 .5-2.3 .5 1.7 .5-2.5 .5 1.8 .5-.9 .5 1 .5-1.4 .5 1.8 .5-1.7 .5 2 .5-1.1 .5 1.4 .5-1.5 .5 1.2 .5-1.7 .5 1.1 .5-3.4 .5 4.9 .5-3.8 .5 2.7 .5-2.7 .5 2.4 .5-.7 .5 .7 .5-2.2 .5 1.1 .5-3.7 .5 4.4 .5-.8 .5 1.3 .5 0 .5 1.1 .5-1.1 .5 1.3 .5-2 .5 1.3 .5-.8 .5 1.4 .5-2.6 .5 2.3 .5-1.9 .5 2.1 .5-2 .5 .9 .5-1.5 .5 1.1 .5-1.3 .5 2.1 .5-2.4 .5 2.7 .5-.6 .5 1.1 .5-1.9 .5 1.7 .5-2.9 .5 1.9 .5-2.1 .5 2.1 .5-2 .5 2.2 .5-1.6 .5 2.3 .5-1.7 .5 .8 .5-1.1 .5 2.3 .5-2 .5 .8 .5-1.1 .5 1.3 .5-1.2 .5 1.3 .5-2.4 .5 1.2 .5-1.8 .5 .4 .5-4.3 .5 2.1 .5-2.8 .5-2.1 .5-8.9 .5-7.5 .5-14.9 .5 .2 .5 6.1 .5 5 .5 7.4 .5 9.8 .5 3.3 .5 4.3 .5 .8 .5 3.1 .5-1.1 .5 2.3 .5-2.6 .5 1.5 .5-.7 .5 2.4 .5-2.2 .5 2.8 .5-1.4 .5 2.5 .5-1.6 .5 .5 .5-3.3 .5 2.5 .5-1.1 .5 2.2 .5-1.3 .5 1.2 .5-2.5 .5 2.6 .5-1.1 .5 2.2 .5-1.3 .5 1.2 .5-2.2 .5 1.6 .5-3.9 .5 2.5 .5-.4 .5 1.6 .5-1.8 .5 1.5 .5-1.4 .5 .9 .5-.6 .5 2.2 .5-1.2 .5 2 .5-2.2 .5 1.3 .5-2.6 .5 2.5 .5-2.2 .5 1.7 .5-2.6 .5 1.4 .5-2.1 .5 2.9 .5-2 .5 2.9 .5-2 .5 1.1 .5-2.2 .5 1.8 .5-2 .5 2 .5-.4 .5 1.8 .5-2.9 .5 1.7 .5-3.2 .5 2.3 .5-.5 .5 1.5 .5-1.6 .5 1.4 .5-3.6 .5 3.2 .5-2 .5 2.8 .5-1.6 .5 1.7 .5-2.4 .5 1.7 .5-1.4 .5 .8 .5-1.3 .5 1.3 .5-1.1 .5 1.8 .5-3 .5 1.5 .5-2.2 .5 3.2 .5-1.6 .5 2.8 .5-1.8 .5 1.3 .5-1.3 .5 .2 .5-1.8 .5 1.8 .5-1 .5 1 .5-2.5 .5 2.8 .5-1.7 .5 1.8 .5-1.8 .5 3 .5-4.3 .5 1.8 .5-.8 .5 2.3 .5-2 .5 2 .5-2.6 .5 2.9 .5-2.7 .5 3 .5-3.2 .5 1.4 .5-2.9 .5 2.2 .5-1.4 .5 1.2 .5-1.3 .5 1 .5-.8 .5 2.5 .5-1.8 .5 1 .5-1.2 .5 2 .5-2.9 .5 2.4 .5-2.5 .5 1.4 .5-2.8 .5 3.3 .5-.6 .5 1.7 .5-2 .5 2.3 .5-1.6 .5 .9 .5-2.4 .5 3.5 .5-1 .5 1.1 .5-1.6 .5 1.5 .5-1.3 .5 1.1 .5-.7 .5 2.4 .5-3.3 .5 1.6 .5-1.3 .5 2.4 .5-1.7 .5 1.3 .5-4.7 .5 1 .5-1.5 .5 2.3 .5-.2 .5 3.3 .5-2.5 .5 2.5 .5-2.8 .5 1.4 .5-2 .5 2.2 .5-.9 .5 2.4 .5-1.9 .5 1.5 .5-2 .5 2.7 .5-1.9 .5 1.6 .5-2.3 .5 3.2 .5-2.2 .5 1.6 .5-2.9 .5 2 .5-5.1 .5 3.7 .5-1.7 .5 2.8 .5-2.5 .5 1.8 .5-1.5 .5 1.6 .5-1.5 .5 1.8 .5-2.5 .5 2.6 .5-2.6 .5 2.4 .5-2.4 .5 2.6 .5-2.1 .5 2.1 .5-.9 .5 1.8 .5-1.4 .5 2.7 .5-3.1 .5 2.7 .5-4.2 .5 2.7 .5-2.2 .5 1.7 .5-1.5 .5 .8 .5-3.2 .5 2.2 .5-2.9 .5 2.6 .5-.3 .5 3.7 .5-2.2 .5 2.4 .5-2 .5 1.5 .5-2.5 .5 0 .5-3.1 .5 3.1 .5-.7 .5 1.1 .5-1.7 .5 1.9 .5-2.6 .5 2.9 .5-1.4 .5 1.9 .5-3.2 .5 1.5 .5-1.2 .5 2.1 .5-1 .5 .3 .5-1.2 .5 .1 .5-.8 .5 .7 .5-2.8 .5 3 .5-1.8 .5 1.8 .5-2.7 .5-.3 .5-2.7 .5-1.3 .5-5.3 .5-4 .5-12.9 .5-9.5 .7-25.5 .4-8.1 .4 2.5 .5 10.6 .5 4.5 .5 7.3 .5 8.9 .5 13.6 .5 7.3 .5 7.4 .5 1 .5 4.3 .5-1.8 .5 3.4 .5-1.2 .5 4 .5-.8 .5 2.8 .5-1.5 .5 1.1 .5-2.9 .5 2.1 .5-1.6 .5 2.7 .5-.7 .5 1.5 .5-2.3 .5 2 .5-4.2 .5 3.2 .5-2.7 .5 2.4 .5-1.2 .5 1.8 .5-1.3 .5 1.3 .5-1.4 .5 2.5 .5-.8 .5 2.6 .5-2.1 .5 .5 .5-2.7 .5 3.6 .5-3.2 .5 .5 .5-.7 .5 1.9 .5-2.6 .5 2.1 .5-2.1 .5 .3 .5 .7 .5 2.5 .5-1.6 .5 1.3 .5-1 .5 0 .5-1.4 .5 1.3 .5-.9 .5 2 .5-1.9 .5 .5 .5-1.3 .5 1.5 .5-.9 .5 1.7 .5-2.1 .5 1.8 .5-1.4 .5 1.7 .5-2.3 .5 1.8 .5-1.5 .5 1.9 .5-1.4 .5 1.7 .5-1.9 .5 1.5 .5-1 .5 1.1 .5-1.7 .5 1.1 .5-1.5 .5 1.7 .5-1.5 .5 1.9 .5-1 .5 2 .5-1.5 .5 2.1 .5-2.2 .5 1.4 .5-2.2 .5 2.3 .5-1.6 .5 1.7 .5-2.7 .5 2.5 .5-.9 .5 .9 .5-2.4 .5 2.8 .5-3.1 .5 1.7 .5-1.7 .5 1.5 .5-.6 .5 1.5 .5-1.7 .5 2.3 .5-3 .5 1 .5-2.2 .5 1.4 .5-1 .5 3.6 .5-2.3 .5 2.3 .5-.9 .5 1.6 .5-2.1 .5 1.2 .5-2.6 .5 1.5 .5-1.2 .5 1.5 .5-1.5 .5 2.9 .5-2.5 .5 1.6 .5-1.4 .5 2.3 .5-3.9 .5 3.7 .5-2.6 .5 1 .5-1.5 .5 1.3 .5-1.4 .5 2 .5-1.8 .5 1.8 .5-1.4 .5 2.9 .5-3.5 .5 1.9 .5-.9 .5 1.6 .5-.9 .5 1.7 .5-3.1 .5 2.4 .5-.7 .5 2.1 .5-2.9 .5 1.7 .5-1.7 .5 2.1 .5-1.6 .5 1 .5-1.9 .5 2.4 .5-3.4 .5 3.7 .5-1.9 .5 1.6 .5-1.9 .5 1 .5-2.1 .5 2.4 .5-2.1 .5 2.1 .5-2.2 .5 2.2 .5-.3 .5 2.2 .5-3.6 .5 2.6 .5-1.6 .5 1.6 .5-1.7 .5 2.4 .5-2.9 .5 .6 .5-.6 .5 2.5 .5-2.2 .5 3.1 .5-2.5 .5 1.8 .5-2.4 .5 1.6 .5-1.5 .5 1.9 .5-2.9 .5 1.4 .5-1.7 .5 2.7 .5-2.6 .5 1.1 .5-1.4 .5 1.8 .5-.9 .5 2.6 .5-4.2 .5 2.7 .5-2.3 .5 1.1 .5-1.2 .5 2.5 .5-1.1 .5 1.1 .5-3.8 .5 4.1 .5-3.1 .5 2.5 .5-3.1 .5 3.3 .5-1.1 .5 2.6 .5-2.8 .5 .9 .5-1.2 .5 1.9 .5-2.5 .5 2.1 .5-1.4 .5 .7 .5-2.2 .5 1.3 .5-.8 .5 2.8 .5-1.7 .5 1 .5-3.8 .5 2.1 .5-3.7 .5 .7 .5-4 .5 .8 .5-4.1 .5-1.3 .5-3.2 .5 2.1 .5-2.2 .5 1.9 .5-2.6 .5 3.8 .5 1 .5 3.9 .5 .7 .5 3.2 .5-1 .5 2.2 .5-1.7 .5 3.5 .5-1.1 .5 1 .5-.2 .5 2.8 .5-3.4 .5 2.4 .5-1.3 .5 .7 .5-2.6 .5 2 .5-.2 .5 1.7 .5-2.4 .5 3.3 .5-.4 .5 1.5 .5-1.2 .5 1.2 .5-2 .5 1.2 .5-1.8 .5 1.5 .5-2.4 .5 2.4 .5-1.3 .5 1.2 .5-1.7 .5 3.1 .5-2.4 .5 2.4 .5-3.6 .5 .9 .5-1.3 .5 2.2 .5-.8 .5 2.9 .5-2.5 .5 1.5 .5-3.3 .5 2 .5-1.2 .5 1.2 .5-1 .5 1.7 .5-1.4 .5 1.5 .5-2.1 .5 2.2 .5-1.4 .5 1.3 .5-1.4 .5 1.7 .5-1.8 .5 2.4 .5-2.5 .5 3.2 .5-4.3 .5 4.6 .5-2.9 .5 2.2 .5-1.6 .5 2.1 .5-1.3 .5 .1 .5-2 .5 3.4 .5-1.5 .5 2.4 .5-4.1 .5 1.5 .5-1 .5 1.8 .5-1.2 .5 .8 .5-1.2 .5 2 .5-1.6 .5 1 .5-1.6 .5 2.5 .5-1.2 .5 1.4 .5-3.3 .5 1.5 .5-2.1 .5 2.8 .5-2.3 .5 3.1 .5-2.1 .5 1.2 .5-.9 .5 2.1 .5-2.6 .5 1.2 .5-1.3 .5 2.4 .5-1.9 .5 1.4 .5-1.4 .5 1.6 .5-1.7 .5 2.2 .5-1.8 .5 1.6 .5-2.9 .5 2.8 .5-1.3 .5 1.3 .5-2.6 .5 1.8 .5-1.7 .5 1.9 .5-3.3 .5 2.1 .5-.9 .5 .7 .5-2.3 .5 2.7 .5-.7 .5 1.2 .5-2.9 .5 3.6 .5-2.4 .5 1.8 .5-1.7 .5 1.2 .5-2.7 .5 2.4 .5-3.9 .5 4.3 .5-1.1 .5 2 .5-2.4 .5 .2 .5-.9 .5 3 .5-2.3 .5 1.7 .5-3 .5 2.3 .5-2.1 .5 1.8 .5-3.3 .5 2.8 .5-1.5 .5 2.5 .5-1.7 .5 2 .5-1.1 .5 1.7 .5-3.6 .5 1.6 .5-1 .5 2.2 .5-3.2 .5 3.5 .5-2.8 .5 2.3 .5-1.6 .5 2.1 .5-1.6 .5 1.2 .5-.7 .5 1.8 .5-1.3 .5 1.4 .5-2 .5 1.8 .5-1.8 .5 1.7 .5-2.4 .5 2.6 .5-2 .5 1.2 .5-3.1 .5 1.8 .5-.7 .5 2.7 .5-2.3 .5 3.1 .5-2.6 .5 1.7 .5-2.2 .5 1.4 .5-1.5 .5 1.7 .5-1.1 .5 2 .5-1.7 .5 1.4 .5-1.2 .5 1.1 .5-2.5 .5 1.3 .5-2.1 .5 2.5 .5-1.2 .5 2.3 .5-3 .5 2.1 .5-1.6 .5 3.4 .5-4 .5 2.7 .5-1.3 .5 1.6 .5-1.6 .5 .7 .5-3.4 .5 2.5 .5-2.8 .5 .4 .5-2.6 .5 3.5 .5-2.1 .5 1.6 .5-1.4 .5-.5 .5-2.9 .5 .3 .5-2.4 .5-.5 .5-2.6 .5-1.4 .5-6.1 .5-1.9 .5-4.6 .5 .6 .5-.7 .5 3.5 .5-.1 .5 2.7 .5-.8 .5 2.6 .5 .5 .5 5 .5 1.1 .5 2.9 .5 .1 .5 2 .5-.1 .5 2.1 .5 .1 .5 2.3 .5-1.2 .5 1.5 .5-1.5 .5 3.5 .5-1.6 .5 1.8 .5-1.4 .5 1.2 .5-2.1 .5 2.2 .5-1.1 .5 2.6 .5-.9 .5 1.9 .5-2.3 .5 1.4 .5-1.4 .5 1.3 .5-2.9 .5 3.1 .5-1.2 .5 1.7 .5-1.6 .5 .8 .5-1.1 .5 2 .5-2.5 .5 1.5 .5-1 .5 1.9 .5-1 .5 .5 .5-2 .5 .5 .5-2.2 .5 2.2 .5-.7 .5 1.9 .5-1.5 .5 1.6 .5-1.9 .5 1.5 .5-.3 .5 1.4 .5-1.4 .5 1 .5-2 .5 2.3 .5-2.6 .5 2.4 .5-1.7 .5 1.1 .5-1 .5 .7 .5-.6 .5 2.2 .5-2 .5 1.4 .5-1.6 .5 .6 .5-2.6 .5 1.9 .5-.6 .5 2 .5-.7 .5 1.1 .5-2.7 .5 2.1 .5-2.5 .5 3 .5-4.3 .5 5 .5-2.2 .5 1.2 .5-.9 .5 1.3 .5-1.8 .5 .5 .5-2.3 .5 3.6 .5-1.1 .5 1.6 .5-1.8 .5 1.1 .5-1.2 .5 1.3 .5-1.2 .5 1.1 .5-2.2 .5 .9 .5-.9 .5 2.4 .5-2.2 .5 2 .5-2 .5 1.7 .5-.9 .5 2.3 .5-2.2 .5 1.6 .5-1.4 .5 1.4 .5-2.4 .5 1.8 .5-3 .5 2.6 .5-1.7 .5 1.2 .5-2 .5 1.2 .5-1.1 .5 2.5 .5-.7 .5 1.9 .5-2.8 .5 1.6 .5-2 .5 1.5 .5-.2 .5 1.8 .5-2.1 .5 .4 .5-2.7 .5 2.1 .5-3.8 .5 3.2 .5-4.8 .5 4.8 .5-2.7 .5 2.6 .5-.7 .5 1.2 .5-1.5 .5 2.6 .5-1.5 .5 2.2 .5-2 .5 2.2 .5-1.7 .5 1.8 .5-1.3 .5 2.1 .5-2.2 .5 1.9 .5-1.7 .5 2.3 .5-1.5 .5 .7 .5-2.6 .5 2.2 .5-1.6 .5 1.3 .5-3.2 .5 2.4 .5-1.4 .5 1.6 .5-1.9 .5 2.8 .5-1.6 .5 2.6 .5-2.8 .5 2.4 .5-1.6 .5 1.3 .5-2.9 .5 2.2 .5-2.4 .5 2.8 .5-3.7 .5 2.2 .5-1.3 .5 1.9 .5-1.3 .5 2.6 .5-2.1 .5 1.3 .5-1 .5 .5 .5-.4 .5 2.1 .5-1.1 .5 .8 .5-2.3 .5 2.5 .5-2.1 .5 1.7 .5-2.5 .5 2 .5-2.3 .5 1.4 .5-2 .5 2.2 .5-1.7 .5 1.3 .5-1.2 .5 2.1 .5-1.9 .5 1.4 .5-1.6 .5 2.6 .5-3.6 .5 1.8 .5-.8 .5 1.2 .5-1.5 .5 2.5 .5-3.5 .5 2.9 .5-1.8 .5 2.2 .5-1.6 .5 2.2 .5-1.9 .5 .9 .5-2.2 .5 2.2 .5-2.4 .5 1.9 .5-1.6 .5 1.3 .5-3 .5 1.6 .5-1.1 .5 1.3 .5-.3 .5 2 .5-1.2 .5 2.4 .5-4 .5 1.9 .5-2.5 .5 .9 .5-1.8 .5 .7 .5-1.6 .5 1.1 .5-.8 .5 .2 .5-.8 .5 1 .5-2.1 .5 2.2 .5-1.3 .5 3.4 .5-2.1 .5 2.2 .5-2.3 .5 1.5 .5-1.6 .5 3.2 .5-2.9 .5 3.9 .5-1.8 .5 1.4 .5-3.6 .5 3.8 .5-2.9 .5 3.7 .5-1.1 .5 2 .5-1.3 .5 .8 .5-5.5 .5 4.1 .5-2.4 .5 2.5 .5-.1 .5 2.8 .5-3.8 .5 4 .5-2.1 .5 1.5 .5-1.5 .5 .5 .5-.9 .5 .5 .5-1.9 .5 1.3 .5-1.1 .5 2.2 .5-3.3 .5 1.2 .5-2.7 .5 2.9 .5-2.4 .5 2.6 .5-.2 .5 1.2 .5-1.3 .5 2 .5-2.6 .5 2.7 .5-2.6 .5 1 .5-1.5 .5 2.2 .5-1 .5 2.4 .5-2.7 .5 1.8 .5-.9 .5 1.6 .5-1.2 .5 1.1 .5-2 .5 1.5 .5-.4 .5 1.8 .5-2.1 .5 1.3 .5-1.4 .5 1.4 .5-2 .5 1.8 .5-1.1 .5 1.5 .5-2.3 .5 1.9 .5-1.1 .5 1.7 .5-3.9 .5 3.3 .5-1.7 .5 1.7 .5-2.2 .5 2.3 .5-2.5 .5 2 .5-1.3 .5 1.9 .5-2.1 .5 1.1 .5-2.6 .5 1.8 .5-3.3 .5 4.7 .5-3.1 .5 2.9 .5-.6 .5 1 .5-1.3 .5 1.8 .5-1.7 .5 4.4 .5-3.4 .5 .8 .5-1.5 .5 1.4 .5-2.1 .5 1.2 .5-.6 .5 2.6 .5-1.6 .5 1.9 .5-2.5 .5 2.2 .5-1.1 .5 1.1 .5-1.6 .5 1 .5-2.8 .5 3.1 .5-1.9 .5 2.8 .5-3.5 .5 2.7 .5-1.3 .5 1.7 .5-2.1 .5 1.6 .5-.8 .5 1.3 .5-2 .5 1.9 .5-1.4 .5 1.8 .5-2.7 .5 1.9 .5-1.8 .5 1.2 .5-.8 .5 2.5 .5-2.6 .5 1.7 .5-2.6 .5 1.4 .5-2.4 .5 1.5 .5-1.4 .5 2.4 .5-2.1 .5 2.5 .5-1.2 .5 1.7 .5-1.6 .5 1.4 .5-2.1 .5 2.5 .5-.9 .5 1.8 .5-1.6 .5 .7 .5-3.3 .5 2.1 .5-.7 .5 2.3 .5-1.2 .5 .9 .5-3 .5 1.3 .5-1.2 .5 1 .5-1.1 .5 3.3 .5-2.5 .5 1.5 .5-1.6 .5 .5 .5-1.6 .5 2.8 .5-1.7 .5 2 .5-2.3 .5 2.4 .5-2.7 .5 2 .5-2.6 .5 1.4 .5-.3 .5 1.1 .5-1.8 .5 .9 .5-.8 .5 2.2 .5-2.2 .5 2.2 .5-3.4 .5 4.8 .5-2.3 .5 1.9 .5-3.2 .5 1.2 .5-2.6 .5 2.1 .5-.6 .5 1.5 .5-1.3 .5 2.2 .5-1.6 .5 1.1 .5-1.5 .5 1.3 .5-1.8 .5 1.4 .5-3.3 .5 3.2 .5-2.8 .5 2.1 .5 .1 .5 .9 .5-1.6 .5 .9 .5-1.5 .5 2.3 .5-1 .5 2.3 .5-3.2 .5 .9 .5-.9 .5 1.1 .5-.2 .5 1.7 .5-1.6 .5 1.3 .5-2.6 .5 2.6 .5-1.9 .5 2.3 .5-1.8 .5 .9V775.6H95.9z"/>
<path fill="#c65900" stroke="#000" stroke-width="1.85" stroke-linejoin="round" d="M46.2 778.5l.5 8.2 .5-3.5 .5 4.2 .5-3 .5 1.9 .5-4.5 .5 2.8 .5-1.7 .5 2 .5-2.1 .5 4.7 .5-4 .5 4.9 .5-4.8 .5 2.3 .5-2.3 .5 3.7 .5-3.4 .5 4.8 .5-4.5 .5 1.9 .5-1.5 .5 2.4 .5-2.9 .5 3 .5-2.2 .5 1.7 .5-2.4 .5 1.4 .5-1.7 .5 3.2 .5-2.3 .5 2.9 .5-2.9 .5 3 .5-5.7 .5 3.5 .5-1.8 .5 3.4 .5-2.6 .5 3.6 .5-2.9 .5 2.4 .5-.2 .5 1.4 .5-2.8 .5 1.8 .5-1 .5 1.7 .5-4.1 .5 2 .5-1.5 .5 2.4 .5-1.4 .5 1.4 .5-3.6 .5 2.1 .5-1.9 .5 2.3 .5-1.3 .5 2.5 .5-3.1 .5 2.8 .5-3.2 .5 2.7 .5-1.4 .5 1.7 .5-2.8 .5 2.9 .5-.7 .5 1.2 .5-2.2 .5 2.4 .5-2.6 .5 1.8 .5-.8 .5 2.2 .5-1.3 .5 .5 .5-1.6 .5 1.2 .5-2 .5 1.6 .5-2.5 .5 2.3 .5-3.3 .5 2 .5-.3 .5 2.2 .5-2.5 .5 1.6 .5-2.2 .5 3.5 .5-3 .5 2.6 .5-2.4 .5 2.8 .5-1.8 .5 2.2 .5-3.3 .5 3.2 .5-3.8 .5 3.4 .5-2 .5 1.5 .5-2.5 .5 2 .5-.7 .5 .5 .5-2.3 .5 2.8 .5-2.7 .5 3.1 .5-4.1 .5 2.1 .5-.3 .5 2.8 .5-2.6 .5 2.5 .5-2 .5 .7 .5-1.5 .5 .6 .5-1.7 .5 2.1 .5-1.5 .5 1.5 .5-1.1 .5 3 .5-2.6 .5 1.9 .5-2.4 .5 2.5 .5-1.3 .5 1.6 .5-3.6 .5 2.9 .5-2.9 .5 4.3 .5-2.5 .5 1.3 .5-1.9 .5 1.7 .5-.8 .5 2.3 .5-1.7 .5 .5 .5-3.2 .5 2.7 .5-2.7 .5 3 .5-2.2 .5 2.1 .5-1.3 .5 2.3 .5-2.4 .5 1.3 .5-.6 .5 .4 .5-1.8 .5 1.4 .5-.7 .5 1.9 .5-2 .5 1.7 .5-2.6 .5 1.5 .5-1.8 .5 2.4 .5-2.1 .5 1.9 .5-1.2 .5 1.3 .5-1.7 .5 2.4 .5-1.2 .5 1.1 .5-2.3 .5 2.6 .5-1.2 .5 1.8 .5-1.8 .5 1.9 .5-3.3 .5 2.6 .5-1.7 .5 2.1 .5-1.2 .5 2.2 .5-1.2 .5 1.5 .5-3.9 .5 2.9 .5-3 .5 2.2 .5-1.7 .5 2.1 .5-1 .5 .4 .5-1.3 .5 1 .5-3.2 .5 2.1 .5-.9 .5 1.9 .5-1.8 .5 1.6 .5-2.2 .5 1.8 .5-1.9 .5 1.3 .5-1.4 .5 2.3 .5-.8 .5 2.7 .5-2.7 .5 1.9 .5-2.2 .5 2.1 .5-1.5 .5 0 .5-1.9 .5 1.1 .5-.2 .5 2 .5-2.9 .5 1.8 .5-1.3 .5 1.5 .5-2.7 .5 3 .5-2 .5 1.8 .5-.6 .5 2.3 .5-1.1 .5 1.3 .5-2.3 .5 1.6 .5-1.9 .5 1.9 .5-1.9 .5 1.3 .5-2.1 .5 2.1 .5-1.5 .5 2.1 .5-2.3 .5 .7 .5-1.7 .5 2.7 .5-1.5 .5 .8 .5-1.4 .5 .7 .5-.6 .5 2.3 .5-1.5 .5 1.6 .5-2.6 .5 .8 .5-2.1 .5 1.1 .5-2.1 .5 3.3 .5-2.4 .5 2.4 .5-1.6 .5 2.5 .5-1.8 .5 1 .5-1 .5 2 .5-1.1 .5 1.1 .5-1.7 .5 1.8 .5-3 .5 .9 .5-1.5 .5 .9 .5-2.1 .5 1.2 .5-2.6 .5 2.9 .5-.2 .5 1.4 .5-3.9 .5 3.1 .5-3.9 .5 1.4 .5-1.9 .5 3.5 .5-1.9 .5 2.6 .5-2.1 .5 2.2 .5-2.1 .5 2.6 .5-.5 .5 .9 .5-2.6 .5 3.6 .5-2 .5 2.2 .5-1.9 .5 .9 .5-2.2 .5 1.9 .5-.5 .5 1.4 .5-3.8 .5 3.4 .5-.7 .5 1.7 .5-1.5 .5 1.2 .5-2.7 .5 2.5 .5-2 .5 3.2 .5-4 .5 1.2 .5-.6 .5 2.7 .5-2.5 .5 1.6 .5-1.4 .5 .7 .5-2.5 .5 1 .5-2 .5 2 .5-1.4 .5 1.2 .5-1.7 .5 1.4 .5-1.8 .5 .7 .5-2.1 .5 1 .5-2.2 .5 1.4 .5-1.7 .5 1.8 .5-1 .5-.6 .5-5.2 .5-1 .5-5.7 .5-3 .5-10.3 .5-12 .5-25.2 .5-41 .7-119.6 .4-57.1 .4 11.1 .5 53.6 .5 71.1 .5 60.6 .5 33.1 .5 19.8 .5 9.2 .5 8.6 .5 2.3 .5 4.4 .5 2.1 .5 2.7 .5-1.1 .5 4.3 .5-1.3 .5 1.8 .5-1.6 .5 2.8 .5-1.4 .5 3.2 .5-2.2 .5 2.2 .5-1.5 .5 1.4 .5-.7 .5 1.3 .5-1.2 .5 1.4 .5-1.1 .5 1.6 .5-1.1 .5 1.1 .5-.6 .5 2 .5-1.6 .5 .5 .5-3.3 .5 2 .5-3.4 .5 3.3 .5-.8 .5 2 .5-1.4 .5 1.4 .5-.8 .5 1.6 .5-1.1 .5 1.7 .5-1.9 .5 1.6 .5-3.1 .5 1.8 .5-1.3 .5 1.1 .5-1.4 .5 1.6 .5-2.6 .5 2.6 .5-.6 .5 1.6 .5-1.1 .5-.4 .5-.1 .5 1.2 .5-2.6 .5 3.4 .5-2.3 .5 1.7 .5-2.4 .5 2.4 .5-1.8 .5 1.9 .5-1.5 .5 2 .5-2.6 .5 1.4 .5-2.6 .5 3.8 .5-1.4 .5 3.2 .5-2.5 .5 .3 .5-.9 .5 2 .5-1.7 .5 1.8 .5-1.1 .5 2.3 .5-1.8 .5 .5 .5-2.6 .5 1.6 .5-1.3 .5 1.9 .5-2.5 .5 1.5 .5-1.2 .5 1.8 .5-2.4 .5 1.5 .5-2 .5 2.3 .5-1.5 .5 1.9 .5-1.3 .5 .7 .5-1.1 .5 1.2 .5-2.4 .5 1.3 .5-1.8 .5 3.3 .5-1.8 .5 2 .5-1.7 .5 1.2 .5-1.9 .5 2.6 .5-2.4 .5 2.1 .5-2.7 .5 2.9 .5-2.1 .5 1.2 .5-1.3 .5 1.8 .5-3.3 .5 3.8 .5-2.1 .5 1.6 .5-2.3 .5 2 .5-1 .5 1 .5-.2 .5 1.1 .5-1.8 .5 .6 .5-2.9 .5 2.9 .5-1.9 .5 2 .5-.9 .5 1.3 .5-3.5 .5 2.7 .5-1.9 .5 1.2 .5-.7 .5 1.2 .5-1 .5 1.3 .5-1.4 .5 .6 .5-.7 .5 1.8 .5-1.3 .5 2.2 .5-3 .5 2.4 .5-3.6 .5 2 .5-3.1 .5 4 .5-2.9 .5 2.1 .5-1.2 .5 2.4 .5-1.7 .5 2 .5-1.5 .5 1.3 .5-1.6 .5 1.2 .5-2.8 .5 2.3 .5-1.5 .5 1.2 .5-.9 .5 1.6 .5-1.1 .5 .7 .5-.9 .5 1 .5-2.4 .5 2.4 .5-1.5 .5 2.6 .5-1.8 .5 1.9 .5-3 .5 1.7 .5-1.4 .5 1.6 .5-1.7 .5 .4 .5-2 .5 2.9 .5-2.4 .5 1.4 .5-.8 .5 1.7 .5-.2 .5 1.4 .5-1.1 .5 1.6 .5-1.3 .5 1.6 .5-2.4 .5 2.3 .5-1.6 .5 1.2 .5-3.2 .5 2.8 .5-1.6 .5 2.3 .5-2.5 .5 1.3 .5-2.4 .5 2.1 .5-2.4 .5 3.4 .5-2.5 .5 1.9 .5-.3 .5 1.4 .5-2.8 .5 2.5 .5-1.8 .5 1.6 .5-2 .5 2.3 .5-1 .5 1.6 .5-2 .5 1.1 .5-1.9 .5 1.4 .5-3.5 .5 4.4 .5-.7 .5 1.1 .5-4.4 .5 2.9 .5-1.2 .5 2 .5-2.4 .5 2.5 .5-1.2 .5 2.1 .5-3.1 .5 2.5 .5-1.6 .5 2 .5-1.8 .5 2.4 .5-1.8 .5 1.4 .5-1.6 .5 1.7 .5-1.8 .5 .6 .5-3.2 .5 3.3 .5-1.1 .5 1.9 .5-1.8 .5 2.1 .5-1.3 .5 1.6 .5-5 .5 2.9 .5-1.7 .5 1.8 .5-.9 .5 2.1 .5-2.8 .5 2.8 .5-2.4 .5 2.7 .5-2.2 .5 2.7 .5-3.8 .5 2.9 .5-2.9 .5 2.6 .5-1.1 .5 1.9 .5-1.2 .5 .6 .5-3.2 .5 1.2 .5-1.2 .5 3.5 .5-1.6 .5 1.7 .5-3.2 .5 2.6 .5-2.1 .5 1.5 .5-2.6 .5 2.1 .5-1.6 .5 1.9 .5-1.6 .5 .9 .5-2.1 .5 .7 .5-2.2 .5 .8 .5-3 .5 1.4 .5-5.2 .5-4.1 .5-14.1 .5-13.3 .5-4.7 .5 10.7 .5 2.6 .5 10.7 .5 7.2 .5 8.3 .5 .6 .5 3.8 .5-1.6 .5 2.3 .5-1.8 .5 1.4 .5-3.3 .5 3.7 .5-1.9 .5 3.5 .5-1.4 .5 .7 .5-1.5 .5 1.1 .5-.8 .5 1.8 .5-.9 .5 1.5 .5-1 .5 1.8 .5-2 .5 1.9 .5-1.2 .5 1.4 .5-1.6 .5 1.8 .5-1.8 .5 .9 .5-1.5 .5 1.9 .5-3.4 .5 2.1 .5 .3 .5 2 .5-1.4 .5 1.5 .5-4.1 .5 1.5 .5-1.3 .5 1.5 .5-.9 .5 1.3 .5-1 .5 1.7 .5-2.4 .5 2 .5-1.5 .5 1.3 .5-1.8 .5 2.4 .5-2.3 .5 1.5 .5-2.6 .5 2.8 .5-2.9 .5 3.7 .5-1.3 .5 2.7 .5-4.7 .5 1.8 .5-1.4 .5 3.1 .5-2.2 .5 1.8 .5-1 .5 1.8 .5-1.8 .5 1.4 .5-1.7 .5 1.4 .5-1.4 .5 1.9 .5-2.2 .5 1.4 .5-2.6 .5 2.1 .5-1.6 .5 1.3 .5-.5 .5 1.1 .5-.7 .5 2.2 .5-1.2 .5 2 .5-2.4 .5 1.2 .5-1.7 .5 1.3 .5-2.1 .5 2.1 .5-1.9 .5 2.9 .5-1.4 .5 1.7 .5-2.6 .5 1.4 .5-1.8 .5 1.1 .5-1.6 .5 1.3 .5-1.1 .5 3.1 .5-2.2 .5 1.4 .5-1.4 .5 1.5 .5-1.6 .5 2.2 .5-.9 .5 .9 .5-3 .5 .9 .5-2.5 .5 2.6 .5-2.3 .5 2.6 .5-2.2 .5 1.9 .5-.3 .5 1.2 .5-2.9 .5 2.4 .5-2.4 .5 3.2 .5-3 .5 1.9 .5-1.9 .5 3.7 .5-3.1 .5 2.4 .5-2.5 .5 .8 .5-2.1 .5 3.6 .5-1.9 .5 2.1 .5-2.1 .5 2 .5-1.5 .5 1.3 .5-1.5 .5 2.6 .5-1.9 .5 .5 .5-2.2 .5 1.6 .5-2.4 .5 3.4 .5-2.3 .5 1.2 .5-1.7 .5 1.5 .5-1 .5 1.1 .5-1.3 .5 2.8 .5-1 .5 1.5 .5-3 .5 1.9 .5-1 .5 1.6 .5-2.5 .5 1.4 .5-2 .5 1.6 .5-1.5 .5 3.2 .5-2.7 .5 3.6 .5-4 .5 1.9 .5-2.7 .5 1.3 .5-1.7 .5 1.8 .5-1.8 .5 1.9 .5-.9 .5 1.1 .5-1.6 .5 2.8 .5-1.4 .5 1.8 .5-1.3 .5 1.7 .5-1.8 .5 1.2 .5-.8 .5 .9 .5-3.5 .5 4 .5-2.3 .5 1.1 .5-.5 .5 1.9 .5-1.1 .5 1.3 .5-1.6 .5 1.9 .5-1.8 .5 1.7 .5-1.7 .5 .9 .5-1 .5 .9 .5-1.5 .5 .9 .5-2.9 .5 3.4 .5-2.3 .5 1.8 .5-2.3 .5 1.1 .5-1 .5 1.6 .5-2.1 .5 .9 .5-1 .5 1.5 .5-1.7 .5 2.6 .5-1.9 .5 3.1 .5-2 .5 1 .5-1.4 .5 1.1 .5-1.5 .5 .6 .5-2 .5 1.8 .5-1.2 .5 1.6 .5-1 .5 1.5 .5-2.9 .5 1.1 .5-1.7 .5 1.4 .5-1.2 .5 .2 .5-2 .5 1.7 .5-1.4 .5 1.6 .5-2.9 .5 1.6 .5-2.7 .5-.2 .5-4.3 .5-2.1 .5-6.1 .5-7.1 .5-14.5 .8-27.6 .4-8.5 .4 2.6 .4 6.5 .5 11 .5 2.8 .5 10.9 .5 11.4 .5 11.6 .5 3.3 .5 7.3 .5 .8 .5 3.2 .5 .2 .5 2.2 .5-1.1 .5 2.1 .5-1.4 .5 1.8 .5-1.9 .5 2.7 .5-1 .5 1.7 .5-2 .5 1.3 .5-.8 .5 1.4 .5-1.1 .5 .8 .5-1.6 .5 1 .5-3.7 .5 4.5 .5 0 .5 1.4 .5-1.1 .5 1.5 .5-3.3 .5 1.1 .5-1.4 .5 1.6 .5-2.1 .5 2.1 .5-.9 .5 2 .5-1.6 .5 3.3 .5-2.1 .5 1.9 .5-2.9 .5 1.9 .5-2.3 .5 2.1 .5-2.1 .5 1.8 .5-2.2 .5 1.2 .5-2.5 .5 3.4 .5-1.2 .5 2.4 .5-2.2 .5 1.1 .5-2.5 .5 2.3 .5-3.3 .5 1.6 .5-1.5 .5 2.7 .5-1.2 .5 .8 .5-.7 .5 1.9 .5-.8 .5 .8 .5-1.3 .5 1.4 .5-.2 .5 1.4 .5-2.6 .5 1.4 .5-2.2 .5 1.9 .5-.3 .5 2 .5-2.5 .5 2.1 .5-2.7 .5 1.3 .5-3 .5 2 .5-.7 .5 2.2 .5-.6 .5 2.1 .5-2.6 .5 2.2 .5-1.4 .5 1.2 .5-2.7 .5 2 .5-1.5 .5 .8 .5-.5 .5 1.5 .5-1.3 .5 1.5 .5-1.6 .5 1.1 .5-1.4 .5 1.7 .5-3.4 .5 1.9 .5-1.6 .5 1.8 .5-4.3 .5 5.3 .5-1 .5 3 .5-3.3 .5 1.7 .5-2 .5 1.4 .5-1 .5 2.8 .5-2.8 .5 1.8 .5-3.2 .5 2.9 .5-1.5 .5 1.9 .5-.8 .5 1 .5-1.9 .5 1.6 .5-1.7 .5 2.1 .5-2.3 .5 2.2 .5-2.2 .5 1.7 .5-3.1 .5 3 .5-2 .5 1.9 .5-1.7 .5 2.2 .5-3.6 .5 2.6 .5-1.7 .5 2.6 .5-1.8 .5 2 .5-2.2 .5 2.3 .5-2.6 .5 1.6 .5-.2 .5 .9 .5-2 .5 2 .5-2.1 .5 2.2 .5-1.8 .5 1.5 .5-1.4 .5 3.7 .5-2.5 .5 .8 .5-3.2 .5 2.9 .5-5 .5 5.3 .5-2.8 .5 1.1 .5-1.3 .5 2 .5-2.1 .5 1 .5-.4 .5 1.7 .5-.6 .5 1 .5-2 .5 1.1 .5-2.7 .5 3.2 .5-2.2 .5 2.6 .5-2.8 .5 3.4 .5-2.1 .5 2.1 .5-1.3 .5 1.1 .5-1.1 .5 1.7 .5-2 .5 .8 .5-.9 .5 1.4 .5-1.2 .5 1.3 .5-1.4 .5 2.1 .5-2.6 .5 1.6 .5-1.7 .5 2.2 .5-2.5 .5 2.5 .5-1.7 .5 2.1 .5-2.1 .5 1.5 .5-1.3 .5 1.6 .5-.7 .5 1.7 .5-3.3 .5 3.3 .5-3.4 .5 .7 .5-.8 .5 1.7 .5-1.8 .5 1.6 .5-1.3 .5 1.4 .5-1 .5 .7 .5-4.1 .5 1.8 .5-2.2 .5 2.2 .5-1.3 .5 2.5 .5-3 .5 .2 .5-4.2 .5 1.3 .5-5.5 .5 .2 .5-6.6 .5-1 .5-5 .5 4.6 .5-.4 .5 3.1 .5 0 .5 3.4 .5 .8 .5 4.8 .5 .6 .5 2 .5-.2 .5 2.5 .5-1.1 .5 2.5 .5-1.5 .5 .8 .5-2.2 .5 2.3 .5-1.1 .5 3.1 .5-2.1 .5 2.9 .5-.6 .5 1 .5-2.5 .5 .9 .5-1.5 .5 2.1 .5-1.5 .5 2.2 .5-1.6 .5 2 .5-2.4 .5 .4 .5-3.3 .5 4.3 .5-1.8 .5 2.6 .5-1.1 .5 1.3 .5-2.6 .5 2.3 .5-3.4 .5 4.7 .5-2.5 .5 2.1 .5-3.2 .5 2.1 .5-2.5 .5 .7 .5-.6 .5 3 .5-1.9 .5 2.3 .5-3.3 .5 1.5 .5-1.7 .5 3.6 .5-1.3 .5 2.6 .5-2.5 .5 2.3 .5-1.8 .5 1 .5-2.8 .5 1.2 .5-2.3 .5 3.4 .5-2.9 .5 2.6 .5-1.6 .5 2.1 .5-1.4 .5 2.7 .5-4.7 .5 3 .5-2.3 .5 2.2 .5-1.8 .5 1.1 .5-.5 .5 .9 .5-1.2 .5 1.6 .5-2 .5 2.3 .5-2.4 .5 1.6 .5-2.8 .5 .6 .5-.6 .5 1.2 .5-.3 .5 2.9 .5-1.8 .5 1.3 .5-1.5 .5 2.1 .5-1.8 .5 .6 .5-3.1 .5 1.8 .5-1 .5 2 .5-1.7 .5 1.3 .5-2 .5 1.7 .5-2 .5 2.5 .5-1.4 .5 1.3 .5-1.8 .5 1.3 .5-2 .5 3.2 .5-2.6 .5 .4 .5-.7 .5 2.1 .5-1.1 .5 1.8 .5-1.4 .5 .7 .5-2 .5 1.1 .5-1 .5 1.8 .5-3.1 .5 2.4 .5-1.5 .5 1.7 .5-1 .5 .8 .5-1.2 .5 1.1 .5-.7 .5 3.4 .5-2.4 .5 2.2 .5-2.8 .5 1.7 .5-2.7 .5 2.4 .5-1.4 .5 2.2 .5-2.6 .5 2.7 .5-2.3 .5 1.7 .5-3.5 .5 3 .5-2.7 .5 4.6 .5-3.1 .5 2.5 .5-2.1 .5 2.1 .5-1.7 .5 2.2 .5-2.4 .5 1.8 .5-3.2 .5 .6 .5-1.3 .5 1.4 .5-2.5 .5 1.9 .5-.6 .5 1.6 .5-1.8 .5 2.1 .5-2.1 .5 3 .5-1.6 .5 1.7 .5-3.3 .5 3.7 .5-.5 .5 .3 .5-1.8 .5 1.1 .5-.7 .5 1.8 .5-2.4 .5 1.2 .5-1.7 .5 2.5 .5-.4 .5 .8 .5-2.1 .5 1.1 .5-2.2 .5 2.4 .5-1.9 .5 2 .5-1.5 .5 2.1 .5-1.4 .5 2.2 .5-.7 .5 1.1 .5-2.5 .5 .8 .5-1.3 .5 1.5 .5-1.9 .5 2.2 .5-1.7 .5 .4 .5-1.6 .5 1.7 .5-2.1 .5 1.9 .5-2.3 .5 1.8 .5-.5 .5 3 .5-2.4 .5 2.2 .5-2.8 .5 2.2 .5-3.7 .5 2.2 .5-1.2 .5 1 .5-1.7 .5 1.8 .5-3 .5 1.2 .5-4 .5-.4 .5-2.9 .5 .3 .5-2.6 .5-.4 .5-4.5 .5-3.1 .5-5.7 .5-2.1 .5-3.5 .5 1.3 .5 1.6 .5 3.4 .5-.7 .5 4 .5-.4 .5 5.3 .5-.7 .5 4.8 .5 .8 .5 4 .5 1.2 .5 2.5 .5-.7 .5 1.5 .5-3.4 .5 4.4 .5-1.1 .5 2.5 .5-1.5 .5 1.4 .5-3.2 .5 2.2 .5-.1 .5 .8 .5-3.1 .5 2.3 .5-.9 .5 1.7 .5 .1 .5 1.4 .5-.8 .5 .9 .5-1.3 .5 1.2 .5-.7 .5 2 .5-2.4 .5 1.5 .5-2.5 .5 1.5 .5-.9 .5 1.9 .5-1.6 .5 1.8 .5-3.1 .5 1.5 .5-1.7 .5 3.3 .5-1.9 .5 2.2 .5-.9 .5 2.2 .5-2.1 .5 .9 .5-2.2 .5 2.4 .5-3.5 .5 2.3 .5-.9 .5 .9 .5-1.9 .5 1.8 .5-.8 .5 2.6 .5-.9 .5 2.2 .5-3.2 .5 1.3 .5-1.7 .5 1.9 .5-2.6 .5 2.1 .5-1.4 .5 2.5 .5-2.4 .5 .9 .5-2.2 .5 1.5 .5 .1 .5 2.1 .5-1.4 .5 .8 .5-1.1 .5 2.5 .5-2.6 .5 2 .5-2.2 .5 .9 .5-1.5 .5 1 .5-1.7 .5 2.4 .5-1.4 .5 1.1 .5-1.8 .5 .8 .5-.8 .5 3.3 .5-2 .5 3 .5-1.9 .5 1.1 .5-1.8 .5 .6 .5-1.8 .5 1.4 .5-1.1 .5 1.6 .5-2.2 .5 3.3 .5-3.8 .5 3.5 .5-1.7 .5 1 .5-1.8 .5 .5 .5-3.2 .5 3.9 .5-3.2 .5 3.3 .5-2.7 .5 2.1 .5-2 .5 1.8 .5-2.9 .5 2.6 .5-1.5 .5 2.6 .5-.8 .5 1.6 .5-3.1 .5 1.6 .5-2.9 .5 2.8 .5-1.2 .5 1.8 .5-1.2 .5 1.6 .5-1.2 .5 .8 .5-2.6 .5 1.1 .5-.9 .5 .9 .5-.8 .5 1 .5-.6 .5 3.5 .5-2.6 .5 1.8 .5-1.7 .5 1.4 .5-1.9 .5 1.3 .5-2.7 .5 3 .5-1.6 .5 .9 .5-2.7 .5 2.3 .5-.9 .5 2.7 .5-1.1 .5 1.3 .5-2.7 .5 1.5 .5-1.3 .5 2.2 .5-1.7 .5 .9 .5-1.2 .5 1.6 .5-1.7 .5 1.4 .5-1.8 .5 1.2 .5-1.2 .5 2.4 .5-1.3 .5 1.8 .5-1.7 .5 1 .5-1.9 .5 2.4 .5-1 .5 .7 .5-1.3 .5 2 .5-1.9 .5 .4 .5-1 .5 2 .5-1.5 .5 1.6 .5-.5 .5 1.4 .5-1.4 .5 .6 .5-.9 .5 1.3 .5-1.5 .5 1.9 .5-2.2 .5 2 .5-2.2 .5 2.7 .5-1.5 .5 2.1 .5-4.4 .5 2.5 .5-1.2 .5 1.3 .5-1.5 .5 2.9 .5-3 .5 1.1 .5-2.5 .5 2.2 .5-.8 .5 1.4 .5-1.2 .5 1.3 .5-2 .5 2.7 .5-1.6 .5 .7 .5-1.3 .5 2.1 .5-1.2 .5 .7 .5-2.9 .5 2.9 .5-1.5 .5 1.7 .5-2.2 .5 .7 .5-1.8 .5 1.2 .5-.8 .5 2.5 .5-1.5 .5 .5 .5-4.4 .5 2.5 .5-2 .5 3.3 .5-2.4 .5 .2 .5-2.1 .5 2.4 .5-2.5 .5 2.1 .5-2 .5 1.5 .5-2.6 .5-.1 .5-1 .5 .7 .5-.5 .5 2.1 .5-2.6 .5 2.3 .5-1.7 .5 2.1 .5-1.2 .5 2.8 .5-1.1 .5 1.9 .5-2 .5 3.1 .5-1 .5 2.5 .5-3.2 .5 1.3 .5-2 .5 2.1 .5-.9 .5 1.9 .5-.5 .5 1.3 .5-2.8 .5 1 .5-2 .5 2.2 .5-.6 .5 2.6 .5-2.3 .5 2.9 .5-4.2 .5 2 .5-1.5 .5 3.2 .5-1 .5 2.1 .5-3.9 .5 2.2 .5-2.1 .5 .5 .5-1.2 .5 2.5 .5-1.7 .5 1.8 .5-1.8 .5 1.8 .5-2 .5 2.6 .5-1.7 .5 1.4 .5-1.4 .5 1 .5-2.4 .5 2.5 .5-1.2 .5 1.8 .5-2 .5 1.3 .5-2 .5 2.2 .5-.2 .5 2.2 .5-1.5 .5 .5 .5-2.4 .5 .9 .5-1.6 .5 2.1 .5-2.3 .5 .2 .5-2.1 .5 3.8 .5-1.1 .5 1.9 .5-1.1 .5 2.3 .5-2.1 .5 1.3 .5-1.4 .5 2.2 .5-4.1 .5 3.8 .5-1.8 .5 1.7 .5-4.4 .5 3.6 .5-1.9 .5 2.9 .5-1.6 .5-.1 .5-4.4 .5 3.4 .5-2.7 .5 3.7 .5-1.1 .5 1.4 .5-1.7 .5 1.5 .5-.7 .5 1.5 .5 .1 .5 1.1 .5-1.3 .5 1.2 .5-3.7 .5 3 .5-2.8 .5 3.8 .5-2.7 .5 1.3 .5-1.5 .5 .7 .5-1.7 .5 1.6 .5-2.3 .5 3.5 .5-2.1 .5 2.6 .5-1.8 .5 .3 .5-1.6 .5 2.1 .5 0 .5 1.2 .5-1.3 .5 1.4 .5-1.3 .5 .1 .5-1.9 .5 2 .5-2.3 .5 1.7 .5-.2 .5 1.6 .5-.8 .5 2.1 .5-3.5 .5 1.9 .5-2.8 .5 2.9 .5-2.4 .5 2.2 .5-3.5 .5 2.7 .5-1.5 .5 2.7 .5-1.7 .5 1.9 .5-1.1 .5 1.2 .5-2.3 .5 2.8 .5-1.9 .5 1.4 .5-1.3 .5 2.5 .5-1.9 .5 1.5 .5-3.1 .5 2.3 .5-2.5 .5 .8 .5-.9 .5 2.3 .5-1.8 .5 1.4 .5-2.4 .5 1.1 .5-1.7 .5 2.4 .5-1.3 .5 1.8 .5-1 .5 2.3 .5-1.7 .5 .7 .5-2.4 .5 1.5 .5-1.7 .5 2.6 .5-2.7 .5 2.4 .5-2.8 .5 1.9 .5-2.3 .5 2.4 .5-1.7 .5 2.1 .5-1.4 .5 1.5 .5-.9 .5 1.8 .5-.6 .5 2.6 .5-3.4 .5 .1 .5-1.5 .5 .9 .5-.7 .5 .6 .5-1.8 .5 3.2 .5-3.2 .5 3.9 .5-3.3 .5 3.5 .5-3.8 .5 3.7 .5-.6 .5 1.9 .5-2.5 .5 1.4 .5-3.1 .5 1.7 .5-1.1 .5 1.2 .5-3.1 .5 1.7 .5-.9 .5 2 .5-2.2 .5 3.6 .5-2.5 .5 2.9 .5-1.8 .5 .5 .5-.6 .5 1.6 .5-.8 .5 1 .5-3.3 .5 2.7 .5-1.5 .5 3.2 .5-3.1 .5 1.2 .5-1.4 .5 .4V827.1H46.2z"/>
<rect x="707.5" y="39.5" width="460" height="275" fill="#fff" stroke="#000" stroke-width="1.3"/>
<rect x="723.3" y="54.2" width="93.5" height="36.6" fill="#c80000" stroke="#000" stroke-width="2"/>
<text x="828.2" y="87.2" font-size="43.3">BaseMaterial</text>
<rect x="723.3" y="107.2" width="93.5" height="36.6" fill="#00a900" stroke="#000" stroke-width="2"/>
<text x="828.2" y="140.2" font-size="43.3">CoatingwithoutW</text>
<rect x="723.3" y="160.1" width="93.5" height="36.6" fill="#0000aa" stroke="#000" stroke-width="2"/>
<text x="828.2" y="193.1" font-size="43.3">5LWearCoating</text>
<rect x="723.3" y="213.1" width="93.5" height="36.6" fill="#00ffff" stroke="#000" stroke-width="2"/>
<text x="828.2" y="246.1" font-size="43.3">7LWearCoating</text>
<rect x="723.3" y="266.0" width="93.5" height="36.6" fill="#c65900" stroke="#000" stroke-width="2"/>
<text x="828.2" y="299.0" font-size="43.3">9LWearCoating</text>
<g font-weight="bold" font-size="29.4">
<clipPath id="cA"><path clip-rule="evenodd" d="M700 300H1100V360H700zM734 341H740.5V346H734zM744.5 341H751V346H744.5z"/></clipPath>
<text x="733.6" y="344.7" clip-path="url(#cA)">1 - Mo</text>
<text x="733.6" y="380.6">2 - MoO<tspan font-size="20">2</tspan></text>
<text x="733.6" y="417.0">3 - FeNi<tspan font-size="20">3</tspan></text>
<text x="733.6" y="453.0">4<tspan dx="2.6"> -</tspan><tspan dx="0.8"> CrB</tspan></text>
<text x="733.6" y="489.4">5 - Cr<tspan font-size="20">5</tspan>B<tspan font-size="20">3</tspan>, Ni<tspan font-size="20">3</tspan>B, Cr<tspan font-size="20">7</tspan>C<tspan font-size="20">3</tspan></text>
</g>
<clipPath id="c1"><path d="M-5-30H30V-4.7H11.98V3H6.83V-4.7H-5z"/></clipPath>
<g stroke="#000" text-anchor="middle" stroke-linejoin="miter">
<text transform="translate(366.0,146.3) scale(1.284,1)" font-size="31.15" font-weight="bold" stroke-width="0.87" text-anchor="start" clip-path="url(#c1)">1</text>
<text transform="translate(249.8,537.6) scale(1.08,1)" font-weight="bold" font-size="27.7" stroke-width="2.4">4</text>
<text transform="translate(344.6,537.8) scale(1.08,1)" font-weight="bold" font-size="27.7" stroke-width="2.4">2</text>
<text transform="translate(407.4,610.8) scale(1.08,1)" font-weight="bold" font-size="27.7" stroke-width="2.4">2</text>
<text transform="translate(525.4,539.5) scale(1.284,1)" font-size="31.15" font-weight="bold" stroke-width="0.87" text-anchor="start" clip-path="url(#c1)">1</text>
<text transform="translate(655.1,482.3) scale(1.284,1)" font-size="31.15" font-weight="bold" stroke-width="0.87" text-anchor="start" clip-path="url(#c1)">1</text>
<text transform="translate(773.3,539.5) scale(1.284,1)" font-size="31.15" font-weight="bold" stroke-width="0.87" text-anchor="start" clip-path="url(#c1)">1</text>
<text transform="translate(732.4,592.4) scale(1.08,1)" font-weight="bold" font-size="27.7" stroke-width="2.4">3</text>
<text transform="translate(895.6,571.2) scale(1.284,1)" font-size="31.15" font-weight="bold" stroke-width="0.87" text-anchor="start" clip-path="url(#c1)">1</text>
<text transform="translate(1027.6,560.5) scale(1.284,1)" font-size="31.15" font-weight="bold" stroke-width="0.87" text-anchor="start" clip-path="url(#c1)">1</text>
<text transform="translate(758.3,663.1) scale(1.08,1)" font-weight="bold" font-size="27.7" stroke-width="2.4">5</text>
</g>
<g font-size="29.6">
<text x="1251.8" y="52.9">14,000</text>
<text x="1251.8" y="124.3">12,000</text>
<text x="1251.8" y="193.9">10,000</text>
<text x="1253.8" y="265.2">8000</text>
<text x="1253.8" y="341.1">6000</text>
<text x="1255.5" y="407.9">4000</text>
<text x="1254.5" y="484.6">2000</text>
<text x="1258" y="554.9">0</text>
</g>
<text transform="translate(1410.6,317.3) rotate(-90)" font-size="42.2">Counts</text>
<g font-size="34" text-anchor="end">
<text x="105.0" y="888.2">30</text>
<text x="192.1" y="888.2">40</text>
<text x="279.2" y="888.2">50</text>
<text x="366.4" y="888.2">60</text>
<text x="453.5" y="888.2">70</text>
<text x="540.6" y="888.2">80</text>
<text x="627.7" y="888.2">90</text>
<text x="714.8" y="888.2">100</text>
<text x="802.0" y="888.2">110</text>
<text x="889.1" y="888.2">120</text>
</g>
<text transform="translate(469.3,953) scale(1.11,1)" font-size="47" font-weight="bold">2θ</text>
<g font-size="34.85">
<text x="1233.4" y="652.1">BaseMaterial</text>
<text x="1182.8" y="703.3">CoatingwithoutW</text>
<text x="1134" y="753.8">5LWearCoating</text>
<text x="1085" y="805.6">7LWearCoating</text>
<text x="1034.5" y="856.7">9LWearCoating</text>
</g>
</svg>
</body></html>
